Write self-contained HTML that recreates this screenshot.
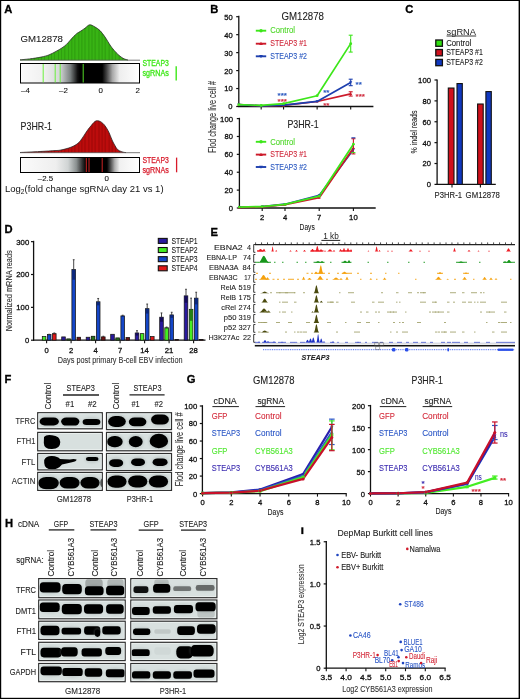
<!DOCTYPE html><html><head><meta charset="utf-8"><title>Figure</title><style>html,body{margin:0;padding:0;background:#fff;}svg{display:block;will-change:transform;}text{font-family:"Liberation Sans",sans-serif;}</style></head><body>
<svg width="520" height="699" viewBox="0 0 520 699">
<defs>
<filter id="bl" x="-20%" y="-40%" width="140%" height="180%"><feGaussianBlur stdDeviation="0.75"/></filter>
<filter id="bl2" x="-20%" y="-40%" width="140%" height="180%"><feGaussianBlur stdDeviation="1.1"/></filter>
<linearGradient id="gA1" x1="20" x2="140" y1="0" y2="0" gradientUnits="userSpaceOnUse"><stop offset="0" stop-color="#fbfbfb"/><stop offset="0.2" stop-color="#f0f0f0"/><stop offset="0.33" stop-color="#d5d8d8"/><stop offset="0.42" stop-color="#7a8080"/><stop offset="0.48" stop-color="#101010"/><stop offset="0.5" stop-color="#000"/><stop offset="0.685" stop-color="#000"/><stop offset="0.72" stop-color="#404040"/><stop offset="0.77" stop-color="#a8a8a8"/><stop offset="0.83" stop-color="#eeeeee"/><stop offset="1" stop-color="#fff"/></linearGradient>
<linearGradient id="gA2" x1="20" x2="140" y1="0" y2="0" gradientUnits="userSpaceOnUse"><stop offset="0" stop-color="#fbfbfb"/><stop offset="0.3" stop-color="#eeeeee"/><stop offset="0.4" stop-color="#d0d4d4"/><stop offset="0.47" stop-color="#8a9090"/><stop offset="0.52" stop-color="#303030"/><stop offset="0.55" stop-color="#000"/><stop offset="0.725" stop-color="#000"/><stop offset="0.75" stop-color="#404040"/><stop offset="0.79" stop-color="#b0b0b0"/><stop offset="0.83" stop-color="#f0f0f0"/><stop offset="1" stop-color="#fff"/></linearGradient>
</defs>
<rect x="0.00" y="0.00" width="520.00" height="699.00" fill="#fff" />
<rect x="0.00" y="0.00" width="1.20" height="699.00" fill="#000" />
<rect x="0.00" y="0.00" width="520.00" height="1.00" fill="#000" />
<rect x="518.60" y="0.00" width="1.40" height="699.00" fill="#000" />
<rect x="0.00" y="697.80" width="520.00" height="1.20" fill="#000" />
<text x="4.30" y="12.70" font-size="11.2" fill="#000" stroke="#000" stroke-width="0.3" font-weight="bold" >A</text>
<text x="210.20" y="12.70" font-size="11.2" fill="#000" stroke="#000" stroke-width="0.3" font-weight="bold" >B</text>
<text x="405.20" y="12.70" font-size="11.2" fill="#000" stroke="#000" stroke-width="0.3" font-weight="bold" >C</text>
<text x="4.60" y="233.20" font-size="11.2" fill="#000" stroke="#000" stroke-width="0.3" font-weight="bold" >D</text>
<text x="210.40" y="235.60" font-size="11.2" fill="#000" stroke="#000" stroke-width="0.3" font-weight="bold" >E</text>
<text x="4.60" y="382.60" font-size="11.2" fill="#000" stroke="#000" stroke-width="0.3" font-weight="bold" >F</text>
<text x="186.80" y="383.20" font-size="11.2" fill="#000" stroke="#000" stroke-width="0.3" font-weight="bold" >G</text>
<text x="5.00" y="527.00" font-size="11.2" fill="#000" stroke="#000" stroke-width="0.3" font-weight="bold" >H</text>
<rect x="301.30" y="527.30" width="2.10" height="6.80" fill="#000" />
<clipPath id="cpA1"><path d="M20.00,59.80 C21.58,59.65 26.00,59.35 29.50,58.90 C33.00,58.45 37.75,57.77 41.00,57.10 C44.25,56.43 46.50,55.85 49.00,54.90 C51.50,53.95 53.83,52.57 56.00,51.40 C58.17,50.23 60.25,49.07 62.00,47.90 C63.75,46.73 65.17,45.63 66.50,44.40 C67.83,43.17 68.83,41.80 70.00,40.50 C71.17,39.20 72.33,37.78 73.50,36.60 C74.67,35.42 75.92,34.23 77.00,33.40 C78.08,32.57 78.67,32.47 80.00,31.60 C81.33,30.73 83.38,29.33 85.00,28.20 C86.62,27.07 88.03,25.00 89.70,24.80 C91.37,24.60 93.28,26.03 95.00,27.00 C96.72,27.97 98.33,28.93 100.00,30.60 C101.67,32.27 103.33,34.60 105.00,37.00 C106.67,39.40 108.67,43.00 110.00,45.00 C111.33,47.00 112.00,47.75 113.00,49.00 C114.00,50.25 114.83,51.30 116.00,52.50 C117.17,53.70 118.67,55.15 120.00,56.20 C121.33,57.25 122.67,58.17 124.00,58.80 C125.33,59.43 127.33,59.80 128.00,60.00 L128,60.2 L20,60.2 Z"/></clipPath>
<path d="M20.00,59.80 C21.58,59.65 26.00,59.35 29.50,58.90 C33.00,58.45 37.75,57.77 41.00,57.10 C44.25,56.43 46.50,55.85 49.00,54.90 C51.50,53.95 53.83,52.57 56.00,51.40 C58.17,50.23 60.25,49.07 62.00,47.90 C63.75,46.73 65.17,45.63 66.50,44.40 C67.83,43.17 68.83,41.80 70.00,40.50 C71.17,39.20 72.33,37.78 73.50,36.60 C74.67,35.42 75.92,34.23 77.00,33.40 C78.08,32.57 78.67,32.47 80.00,31.60 C81.33,30.73 83.38,29.33 85.00,28.20 C86.62,27.07 88.03,25.00 89.70,24.80 C91.37,24.60 93.28,26.03 95.00,27.00 C96.72,27.97 98.33,28.93 100.00,30.60 C101.67,32.27 103.33,34.60 105.00,37.00 C106.67,39.40 108.67,43.00 110.00,45.00 C111.33,47.00 112.00,47.75 113.00,49.00 C114.00,50.25 114.83,51.30 116.00,52.50 C117.17,53.70 118.67,55.15 120.00,56.20 C121.33,57.25 122.67,58.17 124.00,58.80 C125.33,59.43 127.33,59.80 128.00,60.00 L128,60.2 L20,60.2 Z" fill="#38b414"/>
<g clip-path="url(#cpA1)">
<line x1="21.30" y1="0" x2="21.30" y2="60.2" stroke="#1c7008" stroke-width="0.45" opacity="0.8"/>
<line x1="24.40" y1="0" x2="24.40" y2="60.2" stroke="#1c7008" stroke-width="0.45" opacity="0.8"/>
<line x1="28.30" y1="0" x2="28.30" y2="60.2" stroke="#1c7008" stroke-width="0.45" opacity="0.8"/>
<line x1="31.40" y1="0" x2="31.40" y2="60.2" stroke="#1c7008" stroke-width="0.45" opacity="0.8"/>
<line x1="34.50" y1="0" x2="34.50" y2="60.2" stroke="#1c7008" stroke-width="0.45" opacity="0.8"/>
<line x1="38.40" y1="0" x2="38.40" y2="60.2" stroke="#1c7008" stroke-width="0.45" opacity="0.8"/>
<line x1="41.50" y1="0" x2="41.50" y2="60.2" stroke="#1c7008" stroke-width="0.45" opacity="0.8"/>
<line x1="44.60" y1="0" x2="44.60" y2="60.2" stroke="#1c7008" stroke-width="0.45" opacity="0.8"/>
<line x1="48.50" y1="0" x2="48.50" y2="60.2" stroke="#1c7008" stroke-width="0.45" opacity="0.8"/>
<line x1="51.60" y1="0" x2="51.60" y2="60.2" stroke="#1c7008" stroke-width="0.45" opacity="0.8"/>
<line x1="54.70" y1="0" x2="54.70" y2="60.2" stroke="#1c7008" stroke-width="0.45" opacity="0.8"/>
<line x1="58.60" y1="0" x2="58.60" y2="60.2" stroke="#1c7008" stroke-width="0.45" opacity="0.8"/>
<line x1="61.70" y1="0" x2="61.70" y2="60.2" stroke="#1c7008" stroke-width="0.45" opacity="0.8"/>
<line x1="64.80" y1="0" x2="64.80" y2="60.2" stroke="#1c7008" stroke-width="0.45" opacity="0.8"/>
<line x1="68.70" y1="0" x2="68.70" y2="60.2" stroke="#1c7008" stroke-width="0.45" opacity="0.8"/>
<line x1="71.80" y1="0" x2="71.80" y2="60.2" stroke="#1c7008" stroke-width="0.45" opacity="0.8"/>
<line x1="74.90" y1="0" x2="74.90" y2="60.2" stroke="#1c7008" stroke-width="0.45" opacity="0.8"/>
<line x1="78.80" y1="0" x2="78.80" y2="60.2" stroke="#1c7008" stroke-width="0.45" opacity="0.8"/>
<line x1="81.90" y1="0" x2="81.90" y2="60.2" stroke="#1c7008" stroke-width="0.45" opacity="0.8"/>
<line x1="85.00" y1="0" x2="85.00" y2="60.2" stroke="#1c7008" stroke-width="0.45" opacity="0.8"/>
<line x1="88.90" y1="0" x2="88.90" y2="60.2" stroke="#1c7008" stroke-width="0.45" opacity="0.8"/>
<line x1="92.00" y1="0" x2="92.00" y2="60.2" stroke="#1c7008" stroke-width="0.45" opacity="0.8"/>
<line x1="95.10" y1="0" x2="95.10" y2="60.2" stroke="#1c7008" stroke-width="0.45" opacity="0.8"/>
<line x1="99.00" y1="0" x2="99.00" y2="60.2" stroke="#1c7008" stroke-width="0.45" opacity="0.8"/>
<line x1="102.10" y1="0" x2="102.10" y2="60.2" stroke="#1c7008" stroke-width="0.45" opacity="0.8"/>
<line x1="105.20" y1="0" x2="105.20" y2="60.2" stroke="#1c7008" stroke-width="0.45" opacity="0.8"/>
<line x1="109.10" y1="0" x2="109.10" y2="60.2" stroke="#1c7008" stroke-width="0.45" opacity="0.8"/>
<line x1="112.20" y1="0" x2="112.20" y2="60.2" stroke="#1c7008" stroke-width="0.45" opacity="0.8"/>
<line x1="115.30" y1="0" x2="115.30" y2="60.2" stroke="#1c7008" stroke-width="0.45" opacity="0.8"/>
<line x1="119.20" y1="0" x2="119.20" y2="60.2" stroke="#1c7008" stroke-width="0.45" opacity="0.8"/>
<line x1="122.30" y1="0" x2="122.30" y2="60.2" stroke="#1c7008" stroke-width="0.45" opacity="0.8"/>
<line x1="125.40" y1="0" x2="125.40" y2="60.2" stroke="#1c7008" stroke-width="0.45" opacity="0.8"/>
</g>
<path d="M20.00,59.80 C21.58,59.65 26.00,59.35 29.50,58.90 C33.00,58.45 37.75,57.77 41.00,57.10 C44.25,56.43 46.50,55.85 49.00,54.90 C51.50,53.95 53.83,52.57 56.00,51.40 C58.17,50.23 60.25,49.07 62.00,47.90 C63.75,46.73 65.17,45.63 66.50,44.40 C67.83,43.17 68.83,41.80 70.00,40.50 C71.17,39.20 72.33,37.78 73.50,36.60 C74.67,35.42 75.92,34.23 77.00,33.40 C78.08,32.57 78.67,32.47 80.00,31.60 C81.33,30.73 83.38,29.33 85.00,28.20 C86.62,27.07 88.03,25.00 89.70,24.80 C91.37,24.60 93.28,26.03 95.00,27.00 C96.72,27.97 98.33,28.93 100.00,30.60 C101.67,32.27 103.33,34.60 105.00,37.00 C106.67,39.40 108.67,43.00 110.00,45.00 C111.33,47.00 112.00,47.75 113.00,49.00 C114.00,50.25 114.83,51.30 116.00,52.50 C117.17,53.70 118.67,55.15 120.00,56.20 C121.33,57.25 122.67,58.17 124.00,58.80 C125.33,59.43 127.33,59.80 128.00,60.00" fill="none" stroke="#222" stroke-width="0.75"/>
<line x1="20.00" y1="60.20" x2="140.00" y2="60.20" stroke="#555" stroke-width="0.8" />
<rect x="20.50" y="63.50" width="119.00" height="19.50" fill="url(#gA1)" stroke="#000" stroke-width="1"/>
<line x1="43.20" y1="64.00" x2="43.20" y2="82.50" stroke="#5cf02a" stroke-width="0.9" />
<line x1="55.20" y1="64.00" x2="55.20" y2="82.50" stroke="#5cf02a" stroke-width="0.9" />
<line x1="60.20" y1="64.00" x2="60.20" y2="82.50" stroke="#5cf02a" stroke-width="0.9" />
<line x1="83.20" y1="64.00" x2="83.20" y2="82.50" stroke="#5cf02a" stroke-width="0.9" />
<text x="25.50" y="92.60" font-size="7.92" fill="#111" stroke="#111" stroke-width="0.1" text-anchor="middle" >–4</text>
<text x="63.50" y="92.60" font-size="7.92" fill="#111" stroke="#111" stroke-width="0.1" text-anchor="middle" >–2</text>
<text x="100.70" y="92.60" font-size="7.92" fill="#111" stroke="#111" stroke-width="0.1" text-anchor="middle" >0</text>
<text x="137.60" y="92.60" font-size="7.92" fill="#111" stroke="#111" stroke-width="0.1" text-anchor="middle" >2</text>
<text x="20.60" y="42.40" font-size="9.9" fill="#222" stroke="#222" stroke-width="0.1" textLength="42.30" lengthAdjust="spacingAndGlyphs" >GM12878</text>
<text x="142.50" y="65.60" font-size="8.14" fill="#3ee818" stroke="#3ee818" stroke-width="0.3" textLength="26.30" lengthAdjust="spacingAndGlyphs" >STEAP3</text>
<text x="142.50" y="76.20" font-size="8.14" fill="#3ee818" stroke="#3ee818" stroke-width="0.3" textLength="26.30" lengthAdjust="spacingAndGlyphs" >sgRNAs</text>
<line x1="176.20" y1="66.30" x2="176.20" y2="80.50" stroke="#3ee818" stroke-width="1.4" />
<clipPath id="cpA2"><path d="M20.00,152.50 C23.33,152.33 34.17,151.82 40.00,151.50 C45.83,151.18 51.67,150.82 55.00,150.60 C58.33,150.38 58.17,150.50 60.00,150.20 C61.83,149.90 64.17,149.30 66.00,148.80 C67.83,148.30 69.50,147.78 71.00,147.20 C72.50,146.62 73.70,146.07 75.00,145.30 C76.30,144.53 77.63,143.73 78.80,142.60 C79.97,141.47 81.10,139.73 82.00,138.50 C82.90,137.27 83.20,136.70 84.20,135.20 C85.20,133.70 86.87,131.07 88.00,129.50 C89.13,127.93 90.00,127.00 91.00,125.80 C92.00,124.60 93.12,123.13 94.00,122.30 C94.88,121.47 95.47,121.02 96.30,120.80 C97.13,120.58 98.10,120.73 99.00,121.00 C99.90,121.27 100.87,121.82 101.70,122.40 C102.53,122.98 103.22,123.60 104.00,124.50 C104.78,125.40 105.57,126.47 106.40,127.80 C107.23,129.13 108.20,130.82 109.00,132.50 C109.80,134.18 110.53,136.32 111.20,137.90 C111.87,139.48 112.33,140.65 113.00,142.00 C113.67,143.35 114.53,144.87 115.20,146.00 C115.87,147.13 116.33,148.02 117.00,148.80 C117.67,149.58 118.15,150.13 119.20,150.70 C120.25,151.27 122.17,151.88 123.30,152.20 C124.43,152.52 125.55,152.53 126.00,152.60 L126,152.7 L20,152.7 Z"/></clipPath>
<path d="M20.00,152.50 C23.33,152.33 34.17,151.82 40.00,151.50 C45.83,151.18 51.67,150.82 55.00,150.60 C58.33,150.38 58.17,150.50 60.00,150.20 C61.83,149.90 64.17,149.30 66.00,148.80 C67.83,148.30 69.50,147.78 71.00,147.20 C72.50,146.62 73.70,146.07 75.00,145.30 C76.30,144.53 77.63,143.73 78.80,142.60 C79.97,141.47 81.10,139.73 82.00,138.50 C82.90,137.27 83.20,136.70 84.20,135.20 C85.20,133.70 86.87,131.07 88.00,129.50 C89.13,127.93 90.00,127.00 91.00,125.80 C92.00,124.60 93.12,123.13 94.00,122.30 C94.88,121.47 95.47,121.02 96.30,120.80 C97.13,120.58 98.10,120.73 99.00,121.00 C99.90,121.27 100.87,121.82 101.70,122.40 C102.53,122.98 103.22,123.60 104.00,124.50 C104.78,125.40 105.57,126.47 106.40,127.80 C107.23,129.13 108.20,130.82 109.00,132.50 C109.80,134.18 110.53,136.32 111.20,137.90 C111.87,139.48 112.33,140.65 113.00,142.00 C113.67,143.35 114.53,144.87 115.20,146.00 C115.87,147.13 116.33,148.02 117.00,148.80 C117.67,149.58 118.15,150.13 119.20,150.70 C120.25,151.27 122.17,151.88 123.30,152.20 C124.43,152.52 125.55,152.53 126.00,152.60 L126,152.7 L20,152.7 Z" fill="#bc0c0c"/>
<g clip-path="url(#cpA2)">
<line x1="21.30" y1="0" x2="21.30" y2="152.7" stroke="#6a0404" stroke-width="0.45" opacity="0.8"/>
<line x1="24.40" y1="0" x2="24.40" y2="152.7" stroke="#6a0404" stroke-width="0.45" opacity="0.8"/>
<line x1="28.30" y1="0" x2="28.30" y2="152.7" stroke="#6a0404" stroke-width="0.45" opacity="0.8"/>
<line x1="31.40" y1="0" x2="31.40" y2="152.7" stroke="#6a0404" stroke-width="0.45" opacity="0.8"/>
<line x1="34.50" y1="0" x2="34.50" y2="152.7" stroke="#6a0404" stroke-width="0.45" opacity="0.8"/>
<line x1="38.40" y1="0" x2="38.40" y2="152.7" stroke="#6a0404" stroke-width="0.45" opacity="0.8"/>
<line x1="41.50" y1="0" x2="41.50" y2="152.7" stroke="#6a0404" stroke-width="0.45" opacity="0.8"/>
<line x1="44.60" y1="0" x2="44.60" y2="152.7" stroke="#6a0404" stroke-width="0.45" opacity="0.8"/>
<line x1="48.50" y1="0" x2="48.50" y2="152.7" stroke="#6a0404" stroke-width="0.45" opacity="0.8"/>
<line x1="51.60" y1="0" x2="51.60" y2="152.7" stroke="#6a0404" stroke-width="0.45" opacity="0.8"/>
<line x1="54.70" y1="0" x2="54.70" y2="152.7" stroke="#6a0404" stroke-width="0.45" opacity="0.8"/>
<line x1="58.60" y1="0" x2="58.60" y2="152.7" stroke="#6a0404" stroke-width="0.45" opacity="0.8"/>
<line x1="61.70" y1="0" x2="61.70" y2="152.7" stroke="#6a0404" stroke-width="0.45" opacity="0.8"/>
<line x1="64.80" y1="0" x2="64.80" y2="152.7" stroke="#6a0404" stroke-width="0.45" opacity="0.8"/>
<line x1="68.70" y1="0" x2="68.70" y2="152.7" stroke="#6a0404" stroke-width="0.45" opacity="0.8"/>
<line x1="71.80" y1="0" x2="71.80" y2="152.7" stroke="#6a0404" stroke-width="0.45" opacity="0.8"/>
<line x1="74.90" y1="0" x2="74.90" y2="152.7" stroke="#6a0404" stroke-width="0.45" opacity="0.8"/>
<line x1="78.80" y1="0" x2="78.80" y2="152.7" stroke="#6a0404" stroke-width="0.45" opacity="0.8"/>
<line x1="81.90" y1="0" x2="81.90" y2="152.7" stroke="#6a0404" stroke-width="0.45" opacity="0.8"/>
<line x1="85.00" y1="0" x2="85.00" y2="152.7" stroke="#6a0404" stroke-width="0.45" opacity="0.8"/>
<line x1="88.90" y1="0" x2="88.90" y2="152.7" stroke="#6a0404" stroke-width="0.45" opacity="0.8"/>
<line x1="92.00" y1="0" x2="92.00" y2="152.7" stroke="#6a0404" stroke-width="0.45" opacity="0.8"/>
<line x1="95.10" y1="0" x2="95.10" y2="152.7" stroke="#6a0404" stroke-width="0.45" opacity="0.8"/>
<line x1="99.00" y1="0" x2="99.00" y2="152.7" stroke="#6a0404" stroke-width="0.45" opacity="0.8"/>
<line x1="102.10" y1="0" x2="102.10" y2="152.7" stroke="#6a0404" stroke-width="0.45" opacity="0.8"/>
<line x1="105.20" y1="0" x2="105.20" y2="152.7" stroke="#6a0404" stroke-width="0.45" opacity="0.8"/>
<line x1="109.10" y1="0" x2="109.10" y2="152.7" stroke="#6a0404" stroke-width="0.45" opacity="0.8"/>
<line x1="112.20" y1="0" x2="112.20" y2="152.7" stroke="#6a0404" stroke-width="0.45" opacity="0.8"/>
<line x1="115.30" y1="0" x2="115.30" y2="152.7" stroke="#6a0404" stroke-width="0.45" opacity="0.8"/>
<line x1="119.20" y1="0" x2="119.20" y2="152.7" stroke="#6a0404" stroke-width="0.45" opacity="0.8"/>
<line x1="122.30" y1="0" x2="122.30" y2="152.7" stroke="#6a0404" stroke-width="0.45" opacity="0.8"/>
<line x1="125.40" y1="0" x2="125.40" y2="152.7" stroke="#6a0404" stroke-width="0.45" opacity="0.8"/>
</g>
<path d="M20.00,152.50 C23.33,152.33 34.17,151.82 40.00,151.50 C45.83,151.18 51.67,150.82 55.00,150.60 C58.33,150.38 58.17,150.50 60.00,150.20 C61.83,149.90 64.17,149.30 66.00,148.80 C67.83,148.30 69.50,147.78 71.00,147.20 C72.50,146.62 73.70,146.07 75.00,145.30 C76.30,144.53 77.63,143.73 78.80,142.60 C79.97,141.47 81.10,139.73 82.00,138.50 C82.90,137.27 83.20,136.70 84.20,135.20 C85.20,133.70 86.87,131.07 88.00,129.50 C89.13,127.93 90.00,127.00 91.00,125.80 C92.00,124.60 93.12,123.13 94.00,122.30 C94.88,121.47 95.47,121.02 96.30,120.80 C97.13,120.58 98.10,120.73 99.00,121.00 C99.90,121.27 100.87,121.82 101.70,122.40 C102.53,122.98 103.22,123.60 104.00,124.50 C104.78,125.40 105.57,126.47 106.40,127.80 C107.23,129.13 108.20,130.82 109.00,132.50 C109.80,134.18 110.53,136.32 111.20,137.90 C111.87,139.48 112.33,140.65 113.00,142.00 C113.67,143.35 114.53,144.87 115.20,146.00 C115.87,147.13 116.33,148.02 117.00,148.80 C117.67,149.58 118.15,150.13 119.20,150.70 C120.25,151.27 122.17,151.88 123.30,152.20 C124.43,152.52 125.55,152.53 126.00,152.60" fill="none" stroke="#222" stroke-width="0.75"/>
<line x1="20.00" y1="152.70" x2="140.00" y2="152.70" stroke="#555" stroke-width="0.8" />
<rect x="20.50" y="157.50" width="119.00" height="15.00" fill="url(#gA2)" stroke="#000" stroke-width="1"/>
<line x1="86.30" y1="158.00" x2="86.30" y2="172.00" stroke="#e22828" stroke-width="0.9" />
<line x1="89.00" y1="158.00" x2="89.00" y2="172.00" stroke="#e22828" stroke-width="0.9" />
<line x1="102.20" y1="158.00" x2="102.20" y2="172.00" stroke="#e22828" stroke-width="0.9" />
<text x="45.50" y="181.30" font-size="7.92" fill="#111" stroke="#111" stroke-width="0.1" text-anchor="middle" >–2.5</text>
<text x="106.80" y="181.30" font-size="7.92" fill="#111" stroke="#111" stroke-width="0.1" text-anchor="middle" >0</text>
<text x="20.60" y="129.60" font-size="10.34" fill="#222" stroke="#222" stroke-width="0.1" textLength="31.40" lengthAdjust="spacingAndGlyphs" >P3HR-1</text>
<text x="142.50" y="162.60" font-size="8.14" fill="#d81a2a" stroke="#d81a2a" stroke-width="0.25" textLength="26.30" lengthAdjust="spacingAndGlyphs" >STEAP3</text>
<text x="142.50" y="173.10" font-size="8.14" fill="#d81a2a" stroke="#d81a2a" stroke-width="0.25" textLength="26.30" lengthAdjust="spacingAndGlyphs" >sgRNAs</text>
<line x1="176.60" y1="157.60" x2="176.60" y2="172.30" stroke="#d81a2a" stroke-width="1.3" />
<text x="5" y="192.2" font-size="9.4" fill="#111" textLength="158.6" lengthAdjust="spacingAndGlyphs">Log<tspan font-size="6.5" dy="2.2">2</tspan><tspan dy="-2.2">(fold change sgRNA day 21 vs 1)</tspan></text>
<line x1="238.80" y1="15.80" x2="238.80" y2="107.10" stroke="#111" stroke-width="1.3" />
<line x1="238.20" y1="106.50" x2="373.40" y2="106.50" stroke="#111" stroke-width="1.3" />
<line x1="236.20" y1="16.70" x2="238.80" y2="16.70" stroke="#111" stroke-width="1.2" />
<text x="232.60" y="19.65" font-size="7.6" fill="#111" stroke="#111" stroke-width="0.3" text-anchor="end" textLength="8.40" lengthAdjust="spacingAndGlyphs" >50</text>
<line x1="236.20" y1="34.66" x2="238.80" y2="34.66" stroke="#111" stroke-width="1.2" />
<text x="232.60" y="37.61" font-size="7.6" fill="#111" stroke="#111" stroke-width="0.3" text-anchor="end" textLength="8.40" lengthAdjust="spacingAndGlyphs" >40</text>
<line x1="236.20" y1="52.62" x2="238.80" y2="52.62" stroke="#111" stroke-width="1.2" />
<text x="232.60" y="55.57" font-size="7.6" fill="#111" stroke="#111" stroke-width="0.3" text-anchor="end" textLength="8.40" lengthAdjust="spacingAndGlyphs" >30</text>
<line x1="236.20" y1="70.58" x2="238.80" y2="70.58" stroke="#111" stroke-width="1.2" />
<text x="232.60" y="73.53" font-size="7.6" fill="#111" stroke="#111" stroke-width="0.3" text-anchor="end" textLength="8.40" lengthAdjust="spacingAndGlyphs" >20</text>
<line x1="236.20" y1="88.54" x2="238.80" y2="88.54" stroke="#111" stroke-width="1.2" />
<text x="232.60" y="91.49" font-size="7.6" fill="#111" stroke="#111" stroke-width="0.3" text-anchor="end" textLength="8.40" lengthAdjust="spacingAndGlyphs" >10</text>
<line x1="236.20" y1="106.50" x2="238.80" y2="106.50" stroke="#111" stroke-width="1.2" />
<text x="232.60" y="109.45" font-size="7.6" fill="#111" stroke="#111" stroke-width="0.3" text-anchor="end" >0</text>
<line x1="261.18" y1="106.50" x2="261.18" y2="109.50" stroke="#111" stroke-width="1.1" />
<line x1="283.56" y1="106.50" x2="283.56" y2="109.50" stroke="#111" stroke-width="1.1" />
<line x1="317.13" y1="106.50" x2="317.13" y2="109.50" stroke="#111" stroke-width="1.1" />
<line x1="350.70" y1="106.50" x2="350.70" y2="109.50" stroke="#111" stroke-width="1.1" />
<polyline points="238.80,104.70 261.18,105.78 283.56,105.42 317.13,101.47 350.70,93.93" fill="none" stroke="#cc1a2a" stroke-width="1.7" stroke-linejoin="round" />
<line x1="350.70" y1="91.77" x2="350.70" y2="96.08" stroke="#cc1a2a" stroke-width="1.1" />
<line x1="348.70" y1="91.77" x2="352.70" y2="91.77" stroke="#cc1a2a" stroke-width="1.1" />
<line x1="348.70" y1="96.08" x2="352.70" y2="96.08" stroke="#cc1a2a" stroke-width="1.1" />
<path d="M237.26,105.82 L240.34,105.82 L238.80,103.16 Z" fill="#cc1a2a"/>
<path d="M259.64,106.90 L262.72,106.90 L261.18,104.24 Z" fill="#cc1a2a"/>
<path d="M282.02,106.54 L285.10,106.54 L283.56,103.88 Z" fill="#cc1a2a"/>
<path d="M315.59,102.59 L318.67,102.59 L317.13,99.93 Z" fill="#cc1a2a"/>
<path d="M349.16,95.05 L352.24,95.05 L350.70,92.39 Z" fill="#cc1a2a"/>
<polyline points="238.80,104.70 261.18,105.78 283.56,105.06 317.13,101.47 350.70,82.43" fill="none" stroke="#1d3fae" stroke-width="1.7" stroke-linejoin="round" />
<line x1="350.70" y1="79.20" x2="350.70" y2="85.67" stroke="#1d3fae" stroke-width="1.1" />
<line x1="348.70" y1="79.20" x2="352.70" y2="79.20" stroke="#1d3fae" stroke-width="1.1" />
<line x1="348.70" y1="85.67" x2="352.70" y2="85.67" stroke="#1d3fae" stroke-width="1.1" />
<path d="M237.26,103.58 L240.34,103.58 L238.80,106.24 Z" fill="#1d3fae"/>
<path d="M259.64,104.66 L262.72,104.66 L261.18,107.32 Z" fill="#1d3fae"/>
<path d="M282.02,103.94 L285.10,103.94 L283.56,106.60 Z" fill="#1d3fae"/>
<path d="M315.59,100.35 L318.67,100.35 L317.13,103.01 Z" fill="#1d3fae"/>
<path d="M349.16,81.31 L352.24,81.31 L350.70,83.97 Z" fill="#1d3fae"/>
<polyline points="238.80,104.70 261.18,105.42 283.56,103.63 317.13,95.72 350.70,43.64" fill="none" stroke="#3de61a" stroke-width="1.7" stroke-linejoin="round" />
<line x1="350.70" y1="35.20" x2="350.70" y2="52.08" stroke="#3de61a" stroke-width="1.1" />
<line x1="348.70" y1="35.20" x2="352.70" y2="35.20" stroke="#3de61a" stroke-width="1.1" />
<line x1="348.70" y1="52.08" x2="352.70" y2="52.08" stroke="#3de61a" stroke-width="1.1" />
<circle cx="238.80" cy="104.70" r="1.40" fill="#3de61a"/>
<circle cx="261.18" cy="105.42" r="1.40" fill="#3de61a"/>
<circle cx="283.56" cy="103.63" r="1.40" fill="#3de61a"/>
<circle cx="317.13" cy="95.72" r="1.40" fill="#3de61a"/>
<circle cx="350.70" cy="43.64" r="1.40" fill="#3de61a"/>
<text x="281.40" y="20.20" font-size="10.56" fill="#222" stroke="#222" stroke-width="0.1" textLength="42.60" lengthAdjust="spacingAndGlyphs" >GM12878</text>
<line x1="255.80" y1="30.70" x2="266.20" y2="30.70" stroke="#3de61a" stroke-width="1.9" />
<circle cx="261.00" cy="30.70" r="1.70" fill="#3de61a"/>
<text x="270.20" y="33.40" font-size="8.14" fill="#4fd82a" stroke="#4fd82a" stroke-width="0.1" textLength="24.80" lengthAdjust="spacingAndGlyphs" >Control</text>
<line x1="255.80" y1="43.70" x2="266.20" y2="43.70" stroke="#cc1a2a" stroke-width="1.9" />
<path d="M259.13,45.06 L262.87,45.06 L261.00,41.83 Z" fill="#cc1a2a"/>
<text x="270.20" y="46.40" font-size="8.14" fill="#d02a3c" stroke="#d02a3c" stroke-width="0.1" textLength="36.80" lengthAdjust="spacingAndGlyphs" >STEAP3 #1</text>
<line x1="255.80" y1="56.30" x2="266.20" y2="56.30" stroke="#1d3fae" stroke-width="1.9" />
<path d="M259.13,54.94 L262.87,54.94 L261.00,58.17 Z" fill="#1d3fae"/>
<text x="270.20" y="59.00" font-size="8.14" fill="#2a58c0" stroke="#2a58c0" stroke-width="0.1" textLength="36.80" lengthAdjust="spacingAndGlyphs" >STEAP3 #2</text>
<text x="277.60" y="97.90" font-size="8.0" fill="#2a58c0" stroke="#2a58c0" stroke-width="0.1" font-weight="bold" >***</text>
<text x="277.60" y="103.60" font-size="8.0" fill="#d02a3c" stroke="#d02a3c" stroke-width="0.1" font-weight="bold" >***</text>
<text x="323.20" y="95.40" font-size="8.0" fill="#2a58c0" stroke="#2a58c0" stroke-width="0.1" font-weight="bold" >**</text>
<text x="323.20" y="107.60" font-size="8.0" fill="#d02a3c" stroke="#d02a3c" stroke-width="0.1" font-weight="bold" >**</text>
<text x="355.60" y="86.60" font-size="8.0" fill="#2a58c0" stroke="#2a58c0" stroke-width="0.1" font-weight="bold" >**</text>
<text x="355.60" y="98.80" font-size="8.0" fill="#d02a3c" stroke="#d02a3c" stroke-width="0.1" font-weight="bold" >***</text>
<line x1="239.40" y1="117.80" x2="239.40" y2="208.60" stroke="#111" stroke-width="1.3" />
<line x1="238.80" y1="208.00" x2="375.70" y2="208.00" stroke="#111" stroke-width="1.3" />
<line x1="236.80" y1="118.60" x2="239.40" y2="118.60" stroke="#111" stroke-width="1.2" />
<text x="233.00" y="121.55" font-size="7.6" fill="#111" stroke="#111" stroke-width="0.3" text-anchor="end" textLength="12.90" lengthAdjust="spacingAndGlyphs" >100</text>
<line x1="236.80" y1="136.48" x2="239.40" y2="136.48" stroke="#111" stroke-width="1.2" />
<text x="233.00" y="139.43" font-size="7.6" fill="#111" stroke="#111" stroke-width="0.3" text-anchor="end" textLength="8.40" lengthAdjust="spacingAndGlyphs" >80</text>
<line x1="236.80" y1="154.36" x2="239.40" y2="154.36" stroke="#111" stroke-width="1.2" />
<text x="233.00" y="157.31" font-size="7.6" fill="#111" stroke="#111" stroke-width="0.3" text-anchor="end" textLength="8.40" lengthAdjust="spacingAndGlyphs" >60</text>
<line x1="236.80" y1="172.24" x2="239.40" y2="172.24" stroke="#111" stroke-width="1.2" />
<text x="233.00" y="175.19" font-size="7.6" fill="#111" stroke="#111" stroke-width="0.3" text-anchor="end" textLength="8.40" lengthAdjust="spacingAndGlyphs" >40</text>
<line x1="236.80" y1="190.12" x2="239.40" y2="190.12" stroke="#111" stroke-width="1.2" />
<text x="233.00" y="193.07" font-size="7.6" fill="#111" stroke="#111" stroke-width="0.3" text-anchor="end" textLength="8.40" lengthAdjust="spacingAndGlyphs" >20</text>
<line x1="236.80" y1="208.00" x2="239.40" y2="208.00" stroke="#111" stroke-width="1.2" />
<text x="233.00" y="210.95" font-size="7.6" fill="#111" stroke="#111" stroke-width="0.3" text-anchor="end" >0</text>
<line x1="262.20" y1="208.00" x2="262.20" y2="211.00" stroke="#111" stroke-width="1.1" />
<text x="262.20" y="220.30" font-size="7.6" fill="#111" stroke="#111" stroke-width="0.3" text-anchor="middle" >2</text>
<line x1="285.00" y1="208.00" x2="285.00" y2="211.00" stroke="#111" stroke-width="1.1" />
<text x="285.00" y="220.30" font-size="7.6" fill="#111" stroke="#111" stroke-width="0.3" text-anchor="middle" >4</text>
<line x1="319.20" y1="208.00" x2="319.20" y2="211.00" stroke="#111" stroke-width="1.1" />
<text x="319.20" y="220.30" font-size="7.6" fill="#111" stroke="#111" stroke-width="0.3" text-anchor="middle" >7</text>
<line x1="353.40" y1="208.00" x2="353.40" y2="211.00" stroke="#111" stroke-width="1.1" />
<text x="353.40" y="220.30" font-size="7.6" fill="#111" stroke="#111" stroke-width="0.3" text-anchor="middle" textLength="8.60" lengthAdjust="spacingAndGlyphs" >10</text>
<polyline points="239.40,207.11 262.20,206.66 285.00,204.25 319.20,195.48 353.40,149.44" fill="none" stroke="#1d3fae" stroke-width="1.8" stroke-linejoin="round" />
<polyline points="239.40,207.28 262.20,206.93 285.00,204.60 319.20,197.72 353.40,148.10" fill="none" stroke="#cc1a2a" stroke-width="1.8" stroke-linejoin="round" />
<polyline points="239.40,207.11 262.20,206.57 285.00,204.42 319.20,196.20 353.40,144.17" fill="none" stroke="#3de61a" stroke-width="1.8" stroke-linejoin="round" />
<line x1="353.40" y1="138.72" x2="353.40" y2="153.91" stroke="#cc1a2a" stroke-width="1.1" />
<line x1="351.40" y1="138.72" x2="355.40" y2="138.72" stroke="#cc1a2a" stroke-width="1.1" />
<line x1="351.40" y1="153.91" x2="355.40" y2="153.91" stroke="#cc1a2a" stroke-width="1.1" />
<line x1="351.40" y1="137.82" x2="355.40" y2="137.82" stroke="#1d3fae" stroke-width="1.1" />
<line x1="351.40" y1="152.57" x2="355.40" y2="152.57" stroke="#3de61a" stroke-width="1.0" />
<path d="M237.86,205.99 L240.94,205.99 L239.40,208.65 Z" fill="#1d3fae"/>
<path d="M260.66,205.54 L263.74,205.54 L262.20,208.20 Z" fill="#1d3fae"/>
<path d="M283.46,203.13 L286.54,203.13 L285.00,205.79 Z" fill="#1d3fae"/>
<path d="M317.66,194.36 L320.74,194.36 L319.20,197.02 Z" fill="#1d3fae"/>
<path d="M351.86,148.32 L354.94,148.32 L353.40,150.98 Z" fill="#1d3fae"/>
<path d="M237.86,208.40 L240.94,208.40 L239.40,205.74 Z" fill="#cc1a2a"/>
<path d="M260.66,208.05 L263.74,208.05 L262.20,205.39 Z" fill="#cc1a2a"/>
<path d="M283.46,205.72 L286.54,205.72 L285.00,203.06 Z" fill="#cc1a2a"/>
<path d="M317.66,198.84 L320.74,198.84 L319.20,196.18 Z" fill="#cc1a2a"/>
<path d="M351.86,149.22 L354.94,149.22 L353.40,146.56 Z" fill="#cc1a2a"/>
<circle cx="239.40" cy="207.11" r="1.40" fill="#3de61a"/>
<circle cx="262.20" cy="206.57" r="1.40" fill="#3de61a"/>
<circle cx="285.00" cy="204.42" r="1.40" fill="#3de61a"/>
<circle cx="319.20" cy="196.20" r="1.40" fill="#3de61a"/>
<circle cx="353.40" cy="144.17" r="1.40" fill="#3de61a"/>
<text x="287.40" y="128.40" font-size="10.56" fill="#222" stroke="#222" stroke-width="0.1" textLength="31.30" lengthAdjust="spacingAndGlyphs" >P3HR-1</text>
<line x1="255.80" y1="141.80" x2="266.20" y2="141.80" stroke="#3de61a" stroke-width="1.9" />
<circle cx="261.00" cy="141.80" r="1.70" fill="#3de61a"/>
<text x="270.20" y="144.50" font-size="8.14" fill="#4fd82a" stroke="#4fd82a" stroke-width="0.1" textLength="24.80" lengthAdjust="spacingAndGlyphs" >Control</text>
<line x1="255.80" y1="154.60" x2="266.20" y2="154.60" stroke="#cc1a2a" stroke-width="1.9" />
<path d="M259.13,155.96 L262.87,155.96 L261.00,152.73 Z" fill="#cc1a2a"/>
<text x="270.20" y="157.30" font-size="8.14" fill="#d02a3c" stroke="#d02a3c" stroke-width="0.1" textLength="36.80" lengthAdjust="spacingAndGlyphs" >STEAP3 #1</text>
<line x1="255.80" y1="167.00" x2="266.20" y2="167.00" stroke="#1d3fae" stroke-width="1.9" />
<path d="M259.13,165.64 L262.87,165.64 L261.00,168.87 Z" fill="#1d3fae"/>
<text x="270.20" y="169.70" font-size="8.14" fill="#2a58c0" stroke="#2a58c0" stroke-width="0.1" textLength="36.80" lengthAdjust="spacingAndGlyphs" >STEAP3 #2</text>
<text x="299.60" y="230.00" font-size="9.46" fill="#222" stroke="#222" stroke-width="0.1" textLength="15.20" lengthAdjust="spacingAndGlyphs" >Days</text>
<text x="216.40" y="152.80" font-size="10.12" fill="#333" stroke="#333" stroke-width="0.1" textLength="71.80" lengthAdjust="spacingAndGlyphs" transform="rotate(-90 216.40 152.80)" >Flod change live cell #</text>
<text x="446.6" y="34.6" font-size="9.3" fill="#222" textLength="29.4" lengthAdjust="spacingAndGlyphs">sgRNA</text>
<line x1="446.60" y1="36.00" x2="476.20" y2="36.00" stroke="#222" stroke-width="0.9" />
<rect x="435.80" y="40.00" width="6.60" height="6.30" fill="#30e010" stroke="#111" stroke-width="1.3"/>
<text x="446.20" y="45.80" font-size="8.58" fill="#222" stroke="#222" stroke-width="0.1" textLength="25.00" lengthAdjust="spacingAndGlyphs" >Control</text>
<rect x="435.80" y="49.50" width="6.60" height="6.30" fill="#d0101c" stroke="#111" stroke-width="1.3"/>
<text x="446.20" y="55.30" font-size="8.58" fill="#222" stroke="#222" stroke-width="0.1" textLength="36.60" lengthAdjust="spacingAndGlyphs" >STEAP3 #1</text>
<rect x="435.80" y="59.40" width="6.60" height="6.30" fill="#1038c0" stroke="#111" stroke-width="1.3"/>
<text x="446.20" y="65.20" font-size="8.58" fill="#222" stroke="#222" stroke-width="0.1" textLength="36.60" lengthAdjust="spacingAndGlyphs" >STEAP3 #2</text>
<line x1="437.10" y1="79.40" x2="437.10" y2="185.00" stroke="#111" stroke-width="1.3" />
<line x1="436.50" y1="184.40" x2="495.80" y2="184.40" stroke="#111" stroke-width="1.3" />
<line x1="434.50" y1="80.00" x2="437.10" y2="80.00" stroke="#111" stroke-width="1.2" />
<text x="431.00" y="82.95" font-size="7.6" fill="#111" stroke="#111" stroke-width="0.3" text-anchor="end" textLength="12.90" lengthAdjust="spacingAndGlyphs" >100</text>
<line x1="434.50" y1="100.88" x2="437.10" y2="100.88" stroke="#111" stroke-width="1.2" />
<text x="431.00" y="103.83" font-size="7.6" fill="#111" stroke="#111" stroke-width="0.3" text-anchor="end" textLength="8.40" lengthAdjust="spacingAndGlyphs" >80</text>
<line x1="434.50" y1="121.76" x2="437.10" y2="121.76" stroke="#111" stroke-width="1.2" />
<text x="431.00" y="124.71" font-size="7.6" fill="#111" stroke="#111" stroke-width="0.3" text-anchor="end" textLength="8.40" lengthAdjust="spacingAndGlyphs" >60</text>
<line x1="434.50" y1="142.64" x2="437.10" y2="142.64" stroke="#111" stroke-width="1.2" />
<text x="431.00" y="145.59" font-size="7.6" fill="#111" stroke="#111" stroke-width="0.3" text-anchor="end" textLength="8.40" lengthAdjust="spacingAndGlyphs" >40</text>
<line x1="434.50" y1="163.52" x2="437.10" y2="163.52" stroke="#111" stroke-width="1.2" />
<text x="431.00" y="166.47" font-size="7.6" fill="#111" stroke="#111" stroke-width="0.3" text-anchor="end" textLength="8.40" lengthAdjust="spacingAndGlyphs" >20</text>
<line x1="434.50" y1="184.40" x2="437.10" y2="184.40" stroke="#111" stroke-width="1.2" />
<text x="431.00" y="187.35" font-size="7.6" fill="#111" stroke="#111" stroke-width="0.3" text-anchor="end" >0</text>
<rect x="448.30" y="88.04" width="5.70" height="96.36" fill="#d0101c" stroke="#111" stroke-width="1.1"/>
<rect x="457.00" y="83.55" width="5.30" height="100.85" fill="#1038c0" stroke="#111" stroke-width="1.1"/>
<rect x="477.60" y="104.01" width="5.60" height="80.39" fill="#d0101c" stroke="#111" stroke-width="1.1"/>
<rect x="485.90" y="91.59" width="5.40" height="92.81" fill="#1038c0" stroke="#111" stroke-width="1.1"/>
<line x1="452.00" y1="184.40" x2="452.00" y2="187.40" stroke="#111" stroke-width="1.1" />
<line x1="480.40" y1="184.40" x2="480.40" y2="187.40" stroke="#111" stroke-width="1.1" />
<text x="434.60" y="198.00" font-size="8.58" fill="#222" stroke="#222" stroke-width="0.1" textLength="27.40" lengthAdjust="spacingAndGlyphs" >P3HR-1</text>
<text x="465.60" y="198.00" font-size="8.58" fill="#222" stroke="#222" stroke-width="0.1" textLength="34.20" lengthAdjust="spacingAndGlyphs" >GM12878</text>
<text x="416.80" y="153.50" font-size="9.68" fill="#222" stroke="#222" stroke-width="0.1" textLength="43.00" lengthAdjust="spacingAndGlyphs" transform="rotate(-90 416.80 153.50)" >% indel reads</text>
<line x1="33.60" y1="240.80" x2="33.60" y2="340.80" stroke="#111" stroke-width="1.3" />
<line x1="33.00" y1="340.20" x2="205.50" y2="340.20" stroke="#111" stroke-width="1.3" />
<line x1="31.00" y1="241.65" x2="33.60" y2="241.65" stroke="#111" stroke-width="1.2" />
<text x="29.20" y="244.60" font-size="7.6" fill="#111" stroke="#111" stroke-width="0.3" text-anchor="end" textLength="12.90" lengthAdjust="spacingAndGlyphs" >300</text>
<line x1="31.00" y1="274.50" x2="33.60" y2="274.50" stroke="#111" stroke-width="1.2" />
<text x="29.20" y="277.45" font-size="7.6" fill="#111" stroke="#111" stroke-width="0.3" text-anchor="end" textLength="12.90" lengthAdjust="spacingAndGlyphs" >200</text>
<line x1="31.00" y1="307.35" x2="33.60" y2="307.35" stroke="#111" stroke-width="1.2" />
<text x="29.20" y="310.30" font-size="7.6" fill="#111" stroke="#111" stroke-width="0.3" text-anchor="end" textLength="12.90" lengthAdjust="spacingAndGlyphs" >100</text>
<line x1="31.00" y1="340.20" x2="33.60" y2="340.20" stroke="#111" stroke-width="1.2" />
<text x="29.20" y="343.15" font-size="7.6" fill="#111" stroke="#111" stroke-width="0.3" text-anchor="end" >0</text>
<line x1="46.60" y1="340.20" x2="46.60" y2="343.20" stroke="#111" stroke-width="1.1" />
<text x="46.60" y="352.70" font-size="7.6" fill="#111" stroke="#111" stroke-width="0.3" text-anchor="middle" >0</text>
<line x1="71.10" y1="340.20" x2="71.10" y2="343.20" stroke="#111" stroke-width="1.1" />
<text x="71.10" y="352.70" font-size="7.6" fill="#111" stroke="#111" stroke-width="0.3" text-anchor="middle" >2</text>
<line x1="95.60" y1="340.20" x2="95.60" y2="343.20" stroke="#111" stroke-width="1.1" />
<text x="95.60" y="352.70" font-size="7.6" fill="#111" stroke="#111" stroke-width="0.3" text-anchor="middle" >4</text>
<line x1="120.10" y1="340.20" x2="120.10" y2="343.20" stroke="#111" stroke-width="1.1" />
<text x="120.10" y="352.70" font-size="7.6" fill="#111" stroke="#111" stroke-width="0.3" text-anchor="middle" >7</text>
<line x1="144.60" y1="340.20" x2="144.60" y2="343.20" stroke="#111" stroke-width="1.1" />
<text x="144.60" y="352.70" font-size="7.6" fill="#111" stroke="#111" stroke-width="0.3" text-anchor="middle" textLength="8.60" lengthAdjust="spacingAndGlyphs" >14</text>
<line x1="169.10" y1="340.20" x2="169.10" y2="343.20" stroke="#111" stroke-width="1.1" />
<text x="169.10" y="352.70" font-size="7.6" fill="#111" stroke="#111" stroke-width="0.3" text-anchor="middle" textLength="8.60" lengthAdjust="spacingAndGlyphs" >21</text>
<line x1="193.60" y1="340.20" x2="193.60" y2="343.20" stroke="#111" stroke-width="1.1" />
<text x="193.60" y="352.70" font-size="7.6" fill="#111" stroke="#111" stroke-width="0.3" text-anchor="middle" textLength="8.60" lengthAdjust="spacingAndGlyphs" >28</text>
<rect x="42.30" y="336.59" width="3.60" height="3.61" fill="#44ee22" stroke="#151515" stroke-width="0.75"/>
<rect x="47.40" y="334.62" width="3.60" height="5.58" fill="#1446c8" stroke="#151515" stroke-width="0.75"/>
<rect x="47.70" y="334.92" width="3.00" height="0.33" fill="#0a2370" opacity="0.85"/>
<line x1="49.20" y1="334.62" x2="49.20" y2="334.29" stroke="#333" stroke-width="0.9" />
<line x1="48.30" y1="334.29" x2="50.10" y2="334.29" stroke="#333" stroke-width="0.9" />
<rect x="52.50" y="333.63" width="3.60" height="6.57" fill="#e01818" stroke="#151515" stroke-width="0.75"/>
<rect x="52.80" y="333.93" width="3.00" height="0.66" fill="#700a0a" opacity="0.85"/>
<line x1="54.30" y1="333.63" x2="54.30" y2="332.97" stroke="#333" stroke-width="0.9" />
<line x1="53.40" y1="332.97" x2="55.20" y2="332.97" stroke="#333" stroke-width="0.9" />
<rect x="61.70" y="336.91" width="3.60" height="3.29" fill="#2a1a9e" stroke="#151515" stroke-width="0.75"/>
<rect x="66.80" y="338.89" width="3.60" height="1.31" fill="#44ee22" stroke="#151515" stroke-width="0.75"/>
<rect x="66.80" y="338.89" width="3.60" height="1.31" fill="#111" opacity="0.55"/>
<rect x="71.90" y="269.57" width="3.60" height="70.63" fill="#1446c8" stroke="#151515" stroke-width="0.75"/>
<rect x="72.20" y="269.87" width="3.00" height="9.86" fill="#0a2370" opacity="0.85"/>
<line x1="73.70" y1="269.57" x2="73.70" y2="259.72" stroke="#333" stroke-width="0.9" />
<line x1="72.80" y1="259.72" x2="74.60" y2="259.72" stroke="#333" stroke-width="0.9" />
<rect x="77.00" y="337.24" width="3.60" height="2.96" fill="#e01818" stroke="#151515" stroke-width="0.75"/>
<rect x="77.00" y="337.24" width="3.60" height="2.96" fill="#111" opacity="0.55"/>
<rect x="86.20" y="337.24" width="3.60" height="2.96" fill="#2a1a9e" stroke="#151515" stroke-width="0.75"/>
<rect x="91.30" y="336.26" width="3.60" height="3.94" fill="#44ee22" stroke="#151515" stroke-width="0.75"/>
<rect x="91.30" y="336.26" width="3.60" height="3.94" fill="#111" opacity="0.55"/>
<rect x="96.40" y="301.77" width="3.60" height="38.43" fill="#1446c8" stroke="#151515" stroke-width="0.75"/>
<rect x="96.70" y="302.07" width="3.00" height="3.29" fill="#0a2370" opacity="0.85"/>
<line x1="98.20" y1="301.77" x2="98.20" y2="298.48" stroke="#333" stroke-width="0.9" />
<line x1="97.30" y1="298.48" x2="99.10" y2="298.48" stroke="#333" stroke-width="0.9" />
<rect x="101.50" y="336.91" width="3.60" height="3.29" fill="#e01818" stroke="#151515" stroke-width="0.75"/>
<rect x="101.50" y="336.91" width="3.60" height="3.29" fill="#111" opacity="0.55"/>
<rect x="101.80" y="337.21" width="3.00" height="0.66" fill="#700a0a" opacity="0.85"/>
<line x1="103.30" y1="336.91" x2="103.30" y2="336.26" stroke="#333" stroke-width="0.9" />
<line x1="102.40" y1="336.26" x2="104.20" y2="336.26" stroke="#333" stroke-width="0.9" />
<rect x="110.70" y="334.29" width="3.60" height="5.91" fill="#2a1a9e" stroke="#151515" stroke-width="0.75"/>
<rect x="115.80" y="337.90" width="3.60" height="2.30" fill="#44ee22" stroke="#151515" stroke-width="0.75"/>
<rect x="115.80" y="337.90" width="3.60" height="2.30" fill="#111" opacity="0.55"/>
<rect x="120.90" y="315.89" width="3.60" height="24.31" fill="#1446c8" stroke="#151515" stroke-width="0.75"/>
<rect x="121.20" y="316.19" width="3.00" height="0.66" fill="#0a2370" opacity="0.85"/>
<line x1="122.70" y1="315.89" x2="122.70" y2="315.23" stroke="#333" stroke-width="0.9" />
<line x1="121.80" y1="315.23" x2="123.60" y2="315.23" stroke="#333" stroke-width="0.9" />
<rect x="126.00" y="337.57" width="3.60" height="2.63" fill="#e01818" stroke="#151515" stroke-width="0.75"/>
<rect x="126.00" y="337.57" width="3.60" height="2.63" fill="#111" opacity="0.55"/>
<rect x="135.20" y="332.97" width="3.60" height="7.23" fill="#2a1a9e" stroke="#151515" stroke-width="0.75"/>
<rect x="135.50" y="333.27" width="3.00" height="2.30" fill="#120a50" opacity="0.85"/>
<line x1="137.00" y1="332.97" x2="137.00" y2="330.67" stroke="#333" stroke-width="0.9" />
<line x1="136.10" y1="330.67" x2="137.90" y2="330.67" stroke="#333" stroke-width="0.9" />
<rect x="140.30" y="333.63" width="3.60" height="6.57" fill="#44ee22" stroke="#151515" stroke-width="0.75"/>
<rect x="145.40" y="308.66" width="3.60" height="31.54" fill="#1446c8" stroke="#151515" stroke-width="0.75"/>
<rect x="145.70" y="308.96" width="3.00" height="4.60" fill="#0a2370" opacity="0.85"/>
<line x1="147.20" y1="308.66" x2="147.20" y2="304.06" stroke="#333" stroke-width="0.9" />
<line x1="146.30" y1="304.06" x2="148.10" y2="304.06" stroke="#333" stroke-width="0.9" />
<rect x="150.50" y="336.59" width="3.60" height="3.61" fill="#e01818" stroke="#151515" stroke-width="0.75"/>
<rect x="159.70" y="317.20" width="3.60" height="23.00" fill="#2a1a9e" stroke="#151515" stroke-width="0.75"/>
<rect x="160.00" y="317.50" width="3.00" height="4.27" fill="#120a50" opacity="0.85"/>
<line x1="161.50" y1="317.20" x2="161.50" y2="312.93" stroke="#333" stroke-width="0.9" />
<line x1="160.60" y1="312.93" x2="162.40" y2="312.93" stroke="#333" stroke-width="0.9" />
<rect x="164.80" y="327.72" width="3.60" height="12.48" fill="#44ee22" stroke="#151515" stroke-width="0.75"/>
<rect x="165.10" y="328.02" width="3.00" height="0.66" fill="#1e6e10" opacity="0.85"/>
<line x1="166.60" y1="327.72" x2="166.60" y2="327.06" stroke="#333" stroke-width="0.9" />
<line x1="165.70" y1="327.06" x2="167.50" y2="327.06" stroke="#333" stroke-width="0.9" />
<rect x="169.90" y="314.91" width="3.60" height="25.29" fill="#1446c8" stroke="#151515" stroke-width="0.75"/>
<rect x="170.20" y="315.21" width="3.00" height="2.63" fill="#0a2370" opacity="0.85"/>
<line x1="171.70" y1="314.91" x2="171.70" y2="312.28" stroke="#333" stroke-width="0.9" />
<line x1="170.80" y1="312.28" x2="172.60" y2="312.28" stroke="#333" stroke-width="0.9" />
<rect x="175.00" y="339.54" width="3.60" height="0.66" fill="#e01818" stroke="#151515" stroke-width="0.75"/>
<rect x="175.00" y="339.54" width="3.60" height="0.66" fill="#111" opacity="0.55"/>
<rect x="184.20" y="295.85" width="3.60" height="44.35" fill="#2a1a9e" stroke="#151515" stroke-width="0.75"/>
<rect x="184.50" y="296.15" width="3.00" height="6.57" fill="#120a50" opacity="0.85"/>
<line x1="186.00" y1="295.85" x2="186.00" y2="289.28" stroke="#333" stroke-width="0.9" />
<line x1="185.10" y1="289.28" x2="186.90" y2="289.28" stroke="#333" stroke-width="0.9" />
<rect x="189.30" y="309.32" width="3.60" height="30.88" fill="#44ee22" stroke="#151515" stroke-width="0.75"/>
<rect x="189.60" y="309.62" width="3.00" height="11.17" fill="#1e6e10" opacity="0.85"/>
<line x1="191.10" y1="309.32" x2="191.10" y2="298.15" stroke="#333" stroke-width="0.9" />
<line x1="190.20" y1="298.15" x2="192.00" y2="298.15" stroke="#333" stroke-width="0.9" />
<rect x="194.40" y="298.15" width="3.60" height="42.05" fill="#1446c8" stroke="#151515" stroke-width="0.75"/>
<rect x="194.70" y="298.45" width="3.00" height="5.91" fill="#0a2370" opacity="0.85"/>
<line x1="196.20" y1="298.15" x2="196.20" y2="292.24" stroke="#333" stroke-width="0.9" />
<line x1="195.30" y1="292.24" x2="197.10" y2="292.24" stroke="#333" stroke-width="0.9" />
<rect x="199.50" y="339.54" width="3.60" height="0.66" fill="#e01818" stroke="#151515" stroke-width="0.75"/>
<rect x="199.50" y="339.54" width="3.60" height="0.66" fill="#111" opacity="0.55"/>
<rect x="158.30" y="238.40" width="8.90" height="5.00" fill="#2a1a9e" stroke="#111" stroke-width="1.1"/>
<text x="171.40" y="243.70" font-size="8.47" fill="#222" stroke="#222" stroke-width="0.1" textLength="26.30" lengthAdjust="spacingAndGlyphs" >STEAP1</text>
<rect x="158.30" y="247.53" width="8.90" height="5.00" fill="#44ee22" stroke="#111" stroke-width="1.1"/>
<text x="171.40" y="252.83" font-size="8.47" fill="#222" stroke="#222" stroke-width="0.1" textLength="26.30" lengthAdjust="spacingAndGlyphs" >STEAP2</text>
<rect x="158.30" y="256.66" width="8.90" height="5.00" fill="#1446c8" stroke="#111" stroke-width="1.1"/>
<text x="171.40" y="261.96" font-size="8.47" fill="#222" stroke="#222" stroke-width="0.1" textLength="26.30" lengthAdjust="spacingAndGlyphs" >STEAP3</text>
<rect x="158.30" y="265.79" width="8.90" height="5.00" fill="#e01818" stroke="#111" stroke-width="1.1"/>
<text x="171.40" y="271.09" font-size="8.47" fill="#222" stroke="#222" stroke-width="0.1" textLength="26.30" lengthAdjust="spacingAndGlyphs" >STEAP4</text>
<text x="57.80" y="363.40" font-size="9.68" fill="#333" stroke="#333" stroke-width="0.1" textLength="124.70" lengthAdjust="spacingAndGlyphs" >Days post primary B-cell EBV infection</text>
<text x="12.30" y="331.30" font-size="9.46" fill="#333" stroke="#333" stroke-width="0.1" textLength="81.00" lengthAdjust="spacingAndGlyphs" transform="rotate(-90 12.30 331.30)" >Normalized mRNA reads</text>
<line x1="254.80" y1="244.60" x2="515.00" y2="244.60" stroke="#222" stroke-width="1.1" />
<line x1="255.60" y1="242.40" x2="255.60" y2="244.60" stroke="#222" stroke-width="0.8" />
<line x1="261.55" y1="242.40" x2="261.55" y2="244.60" stroke="#222" stroke-width="0.8" />
<line x1="267.50" y1="242.40" x2="267.50" y2="244.60" stroke="#222" stroke-width="0.8" />
<line x1="273.45" y1="242.40" x2="273.45" y2="244.60" stroke="#222" stroke-width="0.8" />
<line x1="279.40" y1="242.40" x2="279.40" y2="244.60" stroke="#222" stroke-width="0.8" />
<line x1="285.35" y1="242.40" x2="285.35" y2="244.60" stroke="#222" stroke-width="0.8" />
<line x1="291.30" y1="242.40" x2="291.30" y2="244.60" stroke="#222" stroke-width="0.8" />
<line x1="297.25" y1="242.40" x2="297.25" y2="244.60" stroke="#222" stroke-width="0.8" />
<line x1="303.20" y1="242.40" x2="303.20" y2="244.60" stroke="#222" stroke-width="0.8" />
<line x1="309.15" y1="242.40" x2="309.15" y2="244.60" stroke="#222" stroke-width="0.8" />
<line x1="315.10" y1="242.40" x2="315.10" y2="244.60" stroke="#222" stroke-width="0.8" />
<line x1="321.05" y1="242.40" x2="321.05" y2="244.60" stroke="#222" stroke-width="0.8" />
<line x1="327.00" y1="242.40" x2="327.00" y2="244.60" stroke="#222" stroke-width="0.8" />
<line x1="332.95" y1="242.40" x2="332.95" y2="244.60" stroke="#222" stroke-width="0.8" />
<line x1="338.90" y1="242.40" x2="338.90" y2="244.60" stroke="#222" stroke-width="0.8" />
<line x1="344.85" y1="242.40" x2="344.85" y2="244.60" stroke="#222" stroke-width="0.8" />
<line x1="350.80" y1="242.40" x2="350.80" y2="244.60" stroke="#222" stroke-width="0.8" />
<line x1="356.75" y1="242.40" x2="356.75" y2="244.60" stroke="#222" stroke-width="0.8" />
<line x1="362.70" y1="242.40" x2="362.70" y2="244.60" stroke="#222" stroke-width="0.8" />
<line x1="368.65" y1="242.40" x2="368.65" y2="244.60" stroke="#222" stroke-width="0.8" />
<line x1="374.60" y1="242.40" x2="374.60" y2="244.60" stroke="#222" stroke-width="0.8" />
<line x1="380.55" y1="242.40" x2="380.55" y2="244.60" stroke="#222" stroke-width="0.8" />
<line x1="386.50" y1="242.40" x2="386.50" y2="244.60" stroke="#222" stroke-width="0.8" />
<line x1="392.45" y1="242.40" x2="392.45" y2="244.60" stroke="#222" stroke-width="0.8" />
<line x1="398.40" y1="242.40" x2="398.40" y2="244.60" stroke="#222" stroke-width="0.8" />
<line x1="404.35" y1="242.40" x2="404.35" y2="244.60" stroke="#222" stroke-width="0.8" />
<line x1="410.30" y1="242.40" x2="410.30" y2="244.60" stroke="#222" stroke-width="0.8" />
<line x1="416.25" y1="242.40" x2="416.25" y2="244.60" stroke="#222" stroke-width="0.8" />
<line x1="422.20" y1="242.40" x2="422.20" y2="244.60" stroke="#222" stroke-width="0.8" />
<line x1="428.15" y1="242.40" x2="428.15" y2="244.60" stroke="#222" stroke-width="0.8" />
<line x1="434.10" y1="242.40" x2="434.10" y2="244.60" stroke="#222" stroke-width="0.8" />
<line x1="440.05" y1="242.40" x2="440.05" y2="244.60" stroke="#222" stroke-width="0.8" />
<line x1="446.00" y1="242.40" x2="446.00" y2="244.60" stroke="#222" stroke-width="0.8" />
<line x1="451.95" y1="242.40" x2="451.95" y2="244.60" stroke="#222" stroke-width="0.8" />
<line x1="457.90" y1="242.40" x2="457.90" y2="244.60" stroke="#222" stroke-width="0.8" />
<line x1="463.85" y1="242.40" x2="463.85" y2="244.60" stroke="#222" stroke-width="0.8" />
<line x1="469.80" y1="242.40" x2="469.80" y2="244.60" stroke="#222" stroke-width="0.8" />
<line x1="475.75" y1="242.40" x2="475.75" y2="244.60" stroke="#222" stroke-width="0.8" />
<line x1="481.70" y1="242.40" x2="481.70" y2="244.60" stroke="#222" stroke-width="0.8" />
<line x1="487.65" y1="242.40" x2="487.65" y2="244.60" stroke="#222" stroke-width="0.8" />
<line x1="493.60" y1="242.40" x2="493.60" y2="244.60" stroke="#222" stroke-width="0.8" />
<line x1="499.55" y1="242.40" x2="499.55" y2="244.60" stroke="#222" stroke-width="0.8" />
<line x1="505.50" y1="242.40" x2="505.50" y2="244.60" stroke="#222" stroke-width="0.8" />
<line x1="511.45" y1="242.40" x2="511.45" y2="244.60" stroke="#222" stroke-width="0.8" />
<text x="323.2" y="238.6" font-size="8.2" fill="#222" textLength="15.6" lengthAdjust="spacingAndGlyphs">1 kb</text>
<line x1="321.40" y1="240.40" x2="340.20" y2="240.40" stroke="#222" stroke-width="1.0" />
<text x="214.00" y="250.30" font-size="7.92" fill="#222" stroke="#222" stroke-width="0.1" textLength="28.60" lengthAdjust="spacingAndGlyphs" >EBNA2</text>
<text x="246.90" y="249.70" font-size="7.92" fill="#222" stroke="#222" stroke-width="0.1" textLength="4.00" lengthAdjust="spacingAndGlyphs" >4</text>
<path d="M255.4,244.50 H253.7 V252.30 H255.4" fill="none" stroke="#222" stroke-width="0.9"/>
<text x="206.60" y="260.30" font-size="7.92" fill="#222" stroke="#222" stroke-width="0.1" textLength="30.30" lengthAdjust="spacingAndGlyphs" >EBNA-LP</text>
<text x="242.90" y="259.70" font-size="7.92" fill="#222" stroke="#222" stroke-width="0.1" textLength="8.00" lengthAdjust="spacingAndGlyphs" >74</text>
<path d="M255.4,254.50 H253.7 V262.30 H255.4" fill="none" stroke="#222" stroke-width="0.9"/>
<text x="209.10" y="270.30" font-size="7.92" fill="#222" stroke="#222" stroke-width="0.1" textLength="29.40" lengthAdjust="spacingAndGlyphs" >EBNA3A</text>
<text x="242.60" y="269.70" font-size="7.92" fill="#222" stroke="#222" stroke-width="0.1" textLength="8.30" lengthAdjust="spacingAndGlyphs" >84</text>
<path d="M255.4,264.50 H253.7 V272.30 H255.4" fill="none" stroke="#222" stroke-width="0.9"/>
<text x="209.10" y="280.30" font-size="7.92" fill="#222" stroke="#222" stroke-width="0.1" textLength="28.60" lengthAdjust="spacingAndGlyphs" >EBNA3C</text>
<text x="244.20" y="279.70" font-size="7.92" fill="#222" stroke="#222" stroke-width="0.1" textLength="6.70" lengthAdjust="spacingAndGlyphs" >17</text>
<path d="M255.4,274.50 H253.7 V282.30 H255.4" fill="none" stroke="#222" stroke-width="0.9"/>
<text x="220.50" y="290.30" font-size="7.92" fill="#222" stroke="#222" stroke-width="0.1" textLength="15.50" lengthAdjust="spacingAndGlyphs" >RelA</text>
<text x="238.50" y="289.70" font-size="7.92" fill="#222" stroke="#222" stroke-width="0.1" textLength="12.40" lengthAdjust="spacingAndGlyphs" >519</text>
<path d="M255.4,284.50 H253.7 V292.30 H255.4" fill="none" stroke="#222" stroke-width="0.9"/>
<text x="220.50" y="300.30" font-size="7.92" fill="#222" stroke="#222" stroke-width="0.1" textLength="15.50" lengthAdjust="spacingAndGlyphs" >RelB</text>
<text x="238.50" y="299.70" font-size="7.92" fill="#222" stroke="#222" stroke-width="0.1" textLength="12.40" lengthAdjust="spacingAndGlyphs" >175</text>
<path d="M255.4,294.50 H253.7 V302.30 H255.4" fill="none" stroke="#222" stroke-width="0.9"/>
<text x="221.30" y="310.30" font-size="7.92" fill="#222" stroke="#222" stroke-width="0.1" textLength="14.70" lengthAdjust="spacingAndGlyphs" >cRel</text>
<text x="238.50" y="309.70" font-size="7.92" fill="#222" stroke="#222" stroke-width="0.1" textLength="12.40" lengthAdjust="spacingAndGlyphs" >274</text>
<path d="M255.4,304.50 H253.7 V312.30 H255.4" fill="none" stroke="#222" stroke-width="0.9"/>
<text x="223.80" y="320.30" font-size="7.92" fill="#222" stroke="#222" stroke-width="0.1" textLength="12.70" lengthAdjust="spacingAndGlyphs" >p50</text>
<text x="238.50" y="319.70" font-size="7.92" fill="#222" stroke="#222" stroke-width="0.1" textLength="12.40" lengthAdjust="spacingAndGlyphs" >319</text>
<path d="M255.4,314.50 H253.7 V322.30 H255.4" fill="none" stroke="#222" stroke-width="0.9"/>
<text x="223.80" y="330.30" font-size="7.92" fill="#222" stroke="#222" stroke-width="0.1" textLength="12.70" lengthAdjust="spacingAndGlyphs" >p52</text>
<text x="238.50" y="329.70" font-size="7.92" fill="#222" stroke="#222" stroke-width="0.1" textLength="12.40" lengthAdjust="spacingAndGlyphs" >327</text>
<path d="M255.4,324.50 H253.7 V332.30 H255.4" fill="none" stroke="#222" stroke-width="0.9"/>
<text x="208.60" y="340.30" font-size="7.92" fill="#222" stroke="#222" stroke-width="0.1" textLength="30.70" lengthAdjust="spacingAndGlyphs" >H3K27Ac</text>
<text x="242.90" y="339.70" font-size="7.92" fill="#222" stroke="#222" stroke-width="0.1" textLength="8.00" lengthAdjust="spacingAndGlyphs" >22</text>
<path d="M255.4,334.50 H253.7 V342.30 H255.4" fill="none" stroke="#222" stroke-width="0.9"/>
<path d="M257.00,251.50 L257.00,251.43 L257.50,251.32 L258.00,251.09 L258.50,250.70 L259.00,250.16 L259.50,249.56 L260.00,249.08 L260.50,248.90 L261.00,249.08 L261.50,249.56 L262.00,250.16 L262.50,250.70 L263.00,251.09 L263.50,251.32 L264.00,251.43 L264.00,251.50 Z" fill="#ee1c25"/>
<path d="M262.00,251.50 L262.00,251.42 L262.29,251.30 L262.57,251.06 L262.86,250.64 L263.14,250.06 L263.43,249.41 L263.71,248.90 L264.00,248.70 L264.29,248.90 L264.57,249.41 L264.86,250.06 L265.14,250.64 L265.43,251.06 L265.71,251.30 L266.00,251.42 L266.00,251.50 Z" fill="#ee1c25"/>
<path d="M271.30,251.50 L271.30,251.36 L271.49,251.15 L271.67,250.71 L271.86,249.96 L272.04,248.92 L272.23,247.78 L272.41,246.86 L272.60,246.50 L272.79,246.86 L272.97,247.78 L273.16,248.92 L273.34,249.96 L273.53,250.71 L273.71,251.15 L273.90,251.36 L273.90,251.50 Z" fill="#ee1c25"/>
<path d="M275.00,251.50 L275.00,251.46 L275.17,251.39 L275.34,251.26 L275.51,251.04 L275.69,250.73 L275.86,250.38 L276.03,250.11 L276.20,250.00 L276.37,250.11 L276.54,250.38 L276.71,250.73 L276.89,251.04 L277.06,251.26 L277.23,251.39 L277.40,251.46 L277.40,251.50 Z" fill="#ee1c25"/>
<path d="M289.00,251.50 L289.00,251.47 L289.21,251.42 L289.43,251.31 L289.64,251.13 L289.86,250.88 L290.07,250.61 L290.29,250.39 L290.50,250.30 L290.71,250.39 L290.93,250.61 L291.14,250.88 L291.36,251.13 L291.57,251.31 L291.79,251.42 L292.00,251.47 L292.00,251.50 Z" fill="#ee1c25"/>
<path d="M294.90,251.50 L294.90,251.46 L295.13,251.39 L295.36,251.26 L295.59,251.04 L295.81,250.73 L296.04,250.38 L296.27,250.11 L296.50,250.00 L296.73,250.11 L296.96,250.38 L297.19,250.73 L297.41,251.04 L297.64,251.26 L297.87,251.39 L298.10,251.46 L298.10,251.50 Z" fill="#ee1c25"/>
<path d="M302.70,251.50 L302.70,251.46 L302.96,251.39 L303.21,251.26 L303.47,251.04 L303.73,250.73 L303.99,250.38 L304.24,250.11 L304.50,250.00 L304.76,250.11 L305.01,250.38 L305.27,250.73 L305.53,251.04 L305.79,251.26 L306.04,251.39 L306.30,251.46 L306.30,251.50 Z" fill="#ee1c25"/>
<path d="M310.00,251.50 L310.00,251.43 L310.36,251.32 L310.71,251.09 L311.07,250.70 L311.43,250.16 L311.79,249.56 L312.14,249.08 L312.50,248.90 L312.86,249.08 L313.21,249.56 L313.57,250.16 L313.93,250.70 L314.29,251.09 L314.64,251.32 L315.00,251.43 L315.00,251.50 Z" fill="#ee1c25"/>
<path d="M315.10,251.50 L315.10,251.35 L315.41,251.11 L315.73,250.61 L316.04,249.78 L316.36,248.61 L316.67,247.33 L316.99,246.30 L317.30,245.90 L317.61,246.30 L317.93,247.33 L318.24,248.61 L318.56,249.78 L318.87,250.61 L319.19,251.11 L319.50,251.35 L319.50,251.50 Z" fill="#ee1c25"/>
<path d="M319.00,251.50 L319.00,251.43 L319.29,251.32 L319.57,251.10 L319.86,250.73 L320.14,250.21 L320.43,249.64 L320.71,249.18 L321.00,249.00 L321.29,249.18 L321.57,249.64 L321.86,250.21 L322.14,250.73 L322.43,251.10 L322.71,251.32 L323.00,251.43 L323.00,251.50 Z" fill="#ee1c25"/>
<path d="M323.50,251.50 L323.50,251.47 L323.71,251.43 L323.93,251.34 L324.14,251.19 L324.36,250.98 L324.57,250.76 L324.79,250.57 L325.00,250.50 L325.21,250.57 L325.43,250.76 L325.64,250.98 L325.86,251.19 L326.07,251.34 L326.29,251.43 L326.50,251.47 L326.50,251.50 Z" fill="#ee1c25"/>
<path d="M326.80,251.50 L326.80,251.44 L327.26,251.34 L327.71,251.15 L328.17,250.82 L328.63,250.37 L329.09,249.86 L329.54,249.46 L330.00,249.30 L330.46,249.46 L330.91,249.86 L331.37,250.37 L331.83,250.82 L332.29,251.15 L332.74,251.34 L333.20,251.44 L333.20,251.50 Z" fill="#ee1c25"/>
<path d="M332.50,251.50 L332.50,251.46 L332.71,251.39 L332.93,251.26 L333.14,251.04 L333.36,250.73 L333.57,250.38 L333.79,250.11 L334.00,250.00 L334.21,250.11 L334.43,250.38 L334.64,250.73 L334.86,251.04 L335.07,251.26 L335.29,251.39 L335.50,251.46 L335.50,251.50 Z" fill="#ee1c25"/>
<path d="M338.70,251.50 L338.70,251.43 L338.96,251.32 L339.21,251.10 L339.47,250.73 L339.73,250.21 L339.99,249.64 L340.24,249.18 L340.50,249.00 L340.76,249.18 L341.01,249.64 L341.27,250.21 L341.53,250.73 L341.79,251.10 L342.04,251.32 L342.30,251.43 L342.30,251.50 Z" fill="#ee1c25"/>
<path d="M342.00,251.50 L342.00,251.41 L342.29,251.26 L342.57,250.96 L342.86,250.45 L343.14,249.75 L343.43,248.97 L343.71,248.34 L344.00,248.10 L344.29,248.34 L344.57,248.97 L344.86,249.75 L345.14,250.45 L345.43,250.96 L345.71,251.26 L346.00,251.41 L346.00,251.50 Z" fill="#ee1c25"/>
<path d="M346.00,251.50 L346.00,251.41 L346.29,251.25 L346.57,250.95 L346.86,250.42 L347.14,249.70 L347.43,248.89 L347.71,248.25 L348.00,248.00 L348.29,248.25 L348.57,248.89 L348.86,249.70 L349.14,250.42 L349.43,250.95 L349.71,251.25 L350.00,251.41 L350.00,251.50 Z" fill="#ee1c25"/>
<path d="M349.80,251.50 L349.80,251.43 L349.97,251.32 L350.14,251.10 L350.31,250.73 L350.49,250.21 L350.66,249.64 L350.83,249.18 L351.00,249.00 L351.17,249.18 L351.34,249.64 L351.51,250.21 L351.69,250.73 L351.86,251.10 L352.03,251.32 L352.20,251.43 L352.20,251.50 Z" fill="#ee1c25"/>
<path d="M367.40,251.50 L367.40,251.47 L367.54,251.43 L367.69,251.34 L367.83,251.19 L367.97,250.98 L368.11,250.76 L368.26,250.57 L368.40,250.50 L368.54,250.57 L368.69,250.76 L368.83,250.98 L368.97,251.19 L369.11,251.34 L369.26,251.43 L369.40,251.47 L369.40,251.50 Z" fill="#ee1c25"/>
<path d="M374.90,251.50 L374.90,251.36 L375.14,251.15 L375.39,250.71 L375.63,249.96 L375.87,248.92 L376.11,247.78 L376.36,246.86 L376.60,246.50 L376.84,246.86 L377.09,247.78 L377.33,248.92 L377.57,249.96 L377.81,250.71 L378.06,251.15 L378.30,251.36 L378.30,251.50 Z" fill="#ee1c25"/>
<path d="M378.20,251.50 L378.20,251.46 L378.39,251.39 L378.57,251.26 L378.76,251.04 L378.94,250.73 L379.13,250.38 L379.31,250.11 L379.50,250.00 L379.69,250.11 L379.87,250.38 L380.06,250.73 L380.24,251.04 L380.43,251.26 L380.61,251.39 L380.80,251.46 L380.80,251.50 Z" fill="#ee1c25"/>
<path d="M386.80,251.50 L386.80,251.47 L386.97,251.43 L387.14,251.34 L387.31,251.19 L387.49,250.98 L387.66,250.76 L387.83,250.57 L388.00,250.50 L388.17,250.57 L388.34,250.76 L388.51,250.98 L388.69,251.19 L388.86,251.34 L389.03,251.43 L389.20,251.47 L389.20,251.50 Z" fill="#ee1c25"/>
<path d="M390.80,251.50 L390.80,251.47 L390.97,251.43 L391.14,251.34 L391.31,251.19 L391.49,250.98 L391.66,250.76 L391.83,250.57 L392.00,250.50 L392.17,250.57 L392.34,250.76 L392.51,250.98 L392.69,251.19 L392.86,251.34 L393.03,251.43 L393.20,251.47 L393.20,251.50 Z" fill="#ee1c25"/>
<path d="M408.30,251.50 L408.30,251.44 L408.66,251.34 L409.01,251.15 L409.37,250.82 L409.73,250.37 L410.09,249.86 L410.44,249.46 L410.80,249.30 L411.16,249.46 L411.51,249.86 L411.87,250.37 L412.23,250.82 L412.59,251.15 L412.94,251.34 L413.30,251.44 L413.30,251.50 Z" fill="#ee1c25"/>
<path d="M418.80,251.50 L418.80,251.47 L418.97,251.42 L419.14,251.33 L419.31,251.16 L419.49,250.93 L419.66,250.68 L419.83,250.48 L420.00,250.40 L420.17,250.48 L420.34,250.68 L420.51,250.93 L420.69,251.16 L420.86,251.33 L421.03,251.42 L421.20,251.47 L421.20,251.50 Z" fill="#ee1c25"/>
<path d="M427.80,251.50 L427.80,251.47 L427.97,251.43 L428.14,251.34 L428.31,251.19 L428.49,250.98 L428.66,250.76 L428.83,250.57 L429.00,250.50 L429.17,250.57 L429.34,250.76 L429.51,250.98 L429.69,251.19 L429.86,251.34 L430.03,251.43 L430.20,251.47 L430.20,251.50 Z" fill="#ee1c25"/>
<path d="M452.90,251.50 L452.90,251.40 L453.13,251.25 L453.36,250.93 L453.59,250.39 L453.81,249.65 L454.04,248.82 L454.27,248.16 L454.50,247.90 L454.73,248.16 L454.96,248.82 L455.19,249.65 L455.41,250.39 L455.64,250.93 L455.87,251.25 L456.10,251.40 L456.10,251.50 Z" fill="#ee1c25"/>
<path d="M467.20,251.50 L467.20,251.46 L467.46,251.39 L467.71,251.26 L467.97,251.04 L468.23,250.73 L468.49,250.38 L468.74,250.11 L469.00,250.00 L469.26,250.11 L469.51,250.38 L469.77,250.73 L470.03,251.04 L470.29,251.26 L470.54,251.39 L470.80,251.46 L470.80,251.50 Z" fill="#ee1c25"/>
<path d="M477.30,251.50 L477.30,251.47 L477.47,251.43 L477.64,251.34 L477.81,251.19 L477.99,250.98 L478.16,250.76 L478.33,250.57 L478.50,250.50 L478.67,250.57 L478.84,250.76 L479.01,250.98 L479.19,251.19 L479.36,251.34 L479.53,251.43 L479.70,251.47 L479.70,251.50 Z" fill="#ee1c25"/>
<path d="M487.80,251.50 L487.80,251.47 L487.97,251.43 L488.14,251.34 L488.31,251.19 L488.49,250.98 L488.66,250.76 L488.83,250.57 L489.00,250.50 L489.17,250.57 L489.34,250.76 L489.51,250.98 L489.69,251.19 L489.86,251.34 L490.03,251.43 L490.20,251.47 L490.20,251.50 Z" fill="#ee1c25"/>
<path d="M505.90,251.50 L505.90,251.41 L506.27,251.27 L506.64,250.99 L507.01,250.52 L507.39,249.85 L507.76,249.12 L508.13,248.53 L508.50,248.30 L508.87,248.53 L509.24,249.12 L509.61,249.85 L509.99,250.52 L510.36,250.99 L510.73,251.27 L511.10,251.41 L511.10,251.50 Z" fill="#ee1c25"/>
<rect x="257.00" y="250.30" width="6.00" height="1.20" fill="#ee1c25" />
<rect x="310.50" y="250.30" width="13.00" height="1.20" fill="#ee1c25" />
<rect x="341.00" y="250.30" width="11.00" height="1.20" fill="#ee1c25" />
<path d="M258.30,262.70 L258.30,262.51 L259.09,262.21 L259.87,261.59 L260.66,260.55 L261.44,259.09 L262.23,257.49 L263.01,256.20 L263.80,255.70 L264.59,256.20 L265.37,257.49 L266.16,259.09 L266.94,260.55 L267.73,261.59 L268.51,262.21 L269.30,262.51 L269.30,262.70 Z" fill="#16961a"/>
<path d="M341.50,262.70 L341.50,262.65 L342.00,262.56 L342.50,262.38 L343.00,262.08 L343.50,261.67 L344.00,261.21 L344.50,260.84 L345.00,260.70 L345.50,260.84 L346.00,261.21 L346.50,261.67 L347.00,262.08 L347.50,262.38 L348.00,262.56 L348.50,262.65 L348.50,262.70 Z" fill="#16961a"/>
<path d="M347.00,262.70 L347.00,262.63 L347.29,262.52 L347.57,262.29 L347.86,261.90 L348.14,261.36 L348.43,260.76 L348.71,260.28 L349.00,260.10 L349.29,260.28 L349.57,260.76 L349.86,261.36 L350.14,261.90 L350.43,262.29 L350.71,262.52 L351.00,262.63 L351.00,262.70 Z" fill="#16961a"/>
<path d="M314.00,262.70 L314.00,262.66 L314.57,262.59 L315.14,262.46 L315.71,262.24 L316.29,261.93 L316.86,261.58 L317.43,261.31 L318.00,261.20 L318.57,261.31 L319.14,261.58 L319.71,261.93 L320.29,262.24 L320.86,262.46 L321.43,262.59 L322.00,262.66 L322.00,262.70 Z" fill="#16961a"/>
<path d="M319.50,262.70 L319.50,262.66 L319.86,262.59 L320.21,262.45 L320.57,262.21 L320.93,261.88 L321.29,261.51 L321.64,261.21 L322.00,261.10 L322.36,261.21 L322.71,261.51 L323.07,261.88 L323.43,262.21 L323.79,262.45 L324.14,262.59 L324.50,262.66 L324.50,262.70 Z" fill="#16961a"/>
<path d="M457.00,262.70 L457.00,262.67 L457.57,262.62 L458.14,262.51 L458.71,262.33 L459.29,262.08 L459.86,261.81 L460.43,261.59 L461.00,261.50 L461.57,261.59 L462.14,261.81 L462.71,262.08 L463.29,262.33 L463.86,262.51 L464.43,262.62 L465.00,262.67 L465.00,262.70 Z" fill="#16961a"/>
<path d="M505.80,262.70 L505.80,262.62 L506.26,262.50 L506.71,262.26 L507.17,261.84 L507.63,261.26 L508.09,260.61 L508.54,260.10 L509.00,259.90 L509.46,260.10 L509.91,260.61 L510.37,261.26 L510.83,261.84 L511.29,262.26 L511.74,262.50 L512.20,262.62 L512.20,262.70 Z" fill="#16961a"/>
<path d="M503.00,262.70 L503.00,262.66 L503.29,262.59 L503.57,262.46 L503.86,262.24 L504.14,261.93 L504.43,261.58 L504.71,261.31 L505.00,261.20 L505.29,261.31 L505.57,261.58 L505.86,261.93 L506.14,262.24 L506.43,262.46 L506.71,262.59 L507.00,262.66 L507.00,262.70 Z" fill="#16961a"/>
<rect x="255.00" y="261.80" width="4.00" height="0.90" fill="#16961a" />
<rect x="267.00" y="261.80" width="4.00" height="0.90" fill="#16961a" />
<rect x="274.00" y="261.80" width="1.50" height="0.90" fill="#16961a" />
<rect x="282.00" y="261.80" width="1.50" height="0.90" fill="#16961a" />
<rect x="296.50" y="261.80" width="1.50" height="0.90" fill="#16961a" />
<rect x="305.00" y="261.80" width="1.50" height="0.90" fill="#16961a" />
<rect x="313.50" y="261.80" width="11.00" height="0.90" fill="#16961a" />
<rect x="330.00" y="261.80" width="1.50" height="0.90" fill="#16961a" />
<rect x="341.50" y="261.80" width="10.00" height="0.90" fill="#16961a" />
<rect x="367.50" y="261.80" width="1.50" height="0.90" fill="#16961a" />
<rect x="387.00" y="261.80" width="1.50" height="0.90" fill="#16961a" />
<rect x="408.00" y="261.80" width="1.50" height="0.90" fill="#16961a" />
<rect x="423.50" y="261.80" width="1.50" height="0.90" fill="#16961a" />
<rect x="456.00" y="261.80" width="11.00" height="0.90" fill="#16961a" />
<rect x="479.00" y="261.80" width="1.50" height="0.90" fill="#16961a" />
<rect x="503.00" y="261.80" width="12.00" height="0.90" fill="#16961a" />
<path d="M318.20,273.70 L318.20,273.47 L318.57,273.10 L318.94,272.35 L319.31,271.08 L319.69,269.32 L320.06,267.37 L320.43,265.80 L320.80,265.20 L321.17,265.80 L321.54,267.37 L321.91,269.32 L322.29,271.08 L322.66,272.35 L323.03,273.10 L323.40,273.47 L323.40,273.70 Z" fill="#f5a10d"/>
<path d="M313.50,273.70 L313.50,273.65 L313.86,273.56 L314.21,273.38 L314.57,273.08 L314.93,272.67 L315.29,272.21 L315.64,271.84 L316.00,271.70 L316.36,271.84 L316.71,272.21 L317.07,272.67 L317.43,273.08 L317.79,273.38 L318.14,273.56 L318.50,273.65 L318.50,273.70 Z" fill="#f5a10d"/>
<path d="M341.00,273.70 L341.00,273.65 L341.50,273.56 L342.00,273.38 L342.50,273.08 L343.00,272.67 L343.50,272.21 L344.00,271.84 L344.50,271.70 L345.00,271.84 L345.50,272.21 L346.00,272.67 L346.50,273.08 L347.00,273.38 L347.50,273.56 L348.00,273.65 L348.00,273.70 Z" fill="#f5a10d"/>
<path d="M437.50,273.70 L437.50,273.66 L437.86,273.59 L438.21,273.46 L438.57,273.24 L438.93,272.93 L439.29,272.58 L439.64,272.31 L440.00,272.20 L440.36,272.31 L440.71,272.58 L441.07,272.93 L441.43,273.24 L441.79,273.46 L442.14,273.59 L442.50,273.66 L442.50,273.70 Z" fill="#f5a10d"/>
<path d="M464.00,273.70 L464.00,273.67 L464.29,273.62 L464.57,273.51 L464.86,273.33 L465.14,273.08 L465.43,272.81 L465.71,272.59 L466.00,272.50 L466.29,272.59 L466.57,272.81 L466.86,273.08 L467.14,273.33 L467.43,273.51 L467.71,273.62 L468.00,273.67 L468.00,273.70 Z" fill="#f5a10d"/>
<rect x="256.00" y="272.80" width="2.00" height="0.90" fill="#f5a10d" />
<rect x="269.00" y="272.80" width="2.00" height="0.90" fill="#f5a10d" />
<rect x="306.50" y="272.80" width="2.00" height="0.90" fill="#f5a10d" />
<rect x="311.00" y="272.80" width="2.00" height="0.90" fill="#f5a10d" />
<rect x="315.00" y="272.80" width="10.00" height="0.90" fill="#f5a10d" />
<rect x="328.00" y="272.80" width="2.00" height="0.90" fill="#f5a10d" />
<rect x="337.00" y="272.80" width="2.00" height="0.90" fill="#f5a10d" />
<rect x="342.00" y="272.80" width="8.00" height="0.90" fill="#f5a10d" />
<rect x="350.00" y="272.80" width="2.00" height="0.90" fill="#f5a10d" />
<rect x="357.00" y="272.80" width="2.00" height="0.90" fill="#f5a10d" />
<rect x="370.00" y="272.80" width="2.00" height="0.90" fill="#f5a10d" />
<rect x="385.00" y="272.80" width="1.50" height="0.90" fill="#f5a10d" />
<rect x="398.00" y="272.80" width="1.50" height="0.90" fill="#f5a10d" />
<rect x="437.00" y="272.80" width="6.00" height="0.90" fill="#f5a10d" />
<rect x="463.00" y="272.80" width="6.00" height="0.90" fill="#f5a10d" />
<path d="M259.00,279.70 L259.00,279.57 L259.64,279.36 L260.29,278.94 L260.93,278.22 L261.57,277.23 L262.21,276.13 L262.86,275.24 L263.50,274.90 L264.14,275.24 L264.79,276.13 L265.43,277.23 L266.07,278.22 L266.71,278.94 L267.36,279.36 L268.00,279.57 L268.00,279.70 Z" fill="#f5a10d"/>
<path d="M265.00,279.70 L265.00,279.64 L265.36,279.53 L265.71,279.32 L266.07,278.96 L266.43,278.46 L266.79,277.91 L267.14,277.47 L267.50,277.30 L267.86,277.47 L268.21,277.91 L268.57,278.46 L268.93,278.96 L269.29,279.32 L269.64,279.53 L270.00,279.64 L270.00,279.70 Z" fill="#f5a10d"/>
<path d="M301.80,279.70 L301.80,279.62 L302.06,279.49 L302.31,279.22 L302.57,278.78 L302.83,278.15 L303.09,277.47 L303.34,276.91 L303.60,276.70 L303.86,276.91 L304.11,277.47 L304.37,278.15 L304.63,278.78 L304.89,279.22 L305.14,279.49 L305.40,279.62 L305.40,279.70 Z" fill="#f5a10d"/>
<path d="M307.00,279.70 L307.00,279.65 L307.36,279.57 L307.71,279.41 L308.07,279.15 L308.43,278.77 L308.79,278.36 L309.14,278.03 L309.50,277.90 L309.86,278.03 L310.21,278.36 L310.57,278.77 L310.93,279.15 L311.29,279.41 L311.64,279.57 L312.00,279.65 L312.00,279.70 Z" fill="#f5a10d"/>
<path d="M316.60,279.70 L316.60,279.60 L317.11,279.45 L317.63,279.13 L318.14,278.59 L318.66,277.85 L319.17,277.02 L319.69,276.36 L320.20,276.10 L320.71,276.36 L321.23,277.02 L321.74,277.85 L322.26,278.59 L322.77,279.13 L323.29,279.45 L323.80,279.60 L323.80,279.70 Z" fill="#f5a10d"/>
<path d="M332.00,279.70 L332.00,279.64 L332.57,279.54 L333.14,279.35 L333.71,279.02 L334.29,278.57 L334.86,278.06 L335.43,277.66 L336.00,277.50 L336.57,277.66 L337.14,278.06 L337.71,278.57 L338.29,279.02 L338.86,279.35 L339.43,279.54 L340.00,279.64 L340.00,279.70 Z" fill="#f5a10d"/>
<path d="M339.00,279.70 L339.00,279.66 L339.29,279.59 L339.57,279.46 L339.86,279.24 L340.14,278.93 L340.43,278.58 L340.71,278.31 L341.00,278.20 L341.29,278.31 L341.57,278.58 L341.86,278.93 L342.14,279.24 L342.43,279.46 L342.71,279.59 L343.00,279.66 L343.00,279.70 Z" fill="#f5a10d"/>
<path d="M345.20,279.70 L345.20,279.62 L345.46,279.49 L345.71,279.22 L345.97,278.78 L346.23,278.15 L346.49,277.47 L346.74,276.91 L347.00,276.70 L347.26,276.91 L347.51,277.47 L347.77,278.15 L348.03,278.78 L348.29,279.22 L348.54,279.49 L348.80,279.62 L348.80,279.70 Z" fill="#f5a10d"/>
<path d="M369.30,279.70 L369.30,279.66 L369.51,279.59 L369.73,279.46 L369.94,279.24 L370.16,278.93 L370.37,278.58 L370.59,278.31 L370.80,278.20 L371.01,278.31 L371.23,278.58 L371.44,278.93 L371.66,279.24 L371.87,279.46 L372.09,279.59 L372.30,279.66 L372.30,279.70 Z" fill="#f5a10d"/>
<path d="M382.60,279.70 L382.60,279.65 L382.89,279.56 L383.17,279.38 L383.46,279.08 L383.74,278.67 L384.03,278.21 L384.31,277.84 L384.60,277.70 L384.89,277.84 L385.17,278.21 L385.46,278.67 L385.74,279.08 L386.03,279.38 L386.31,279.56 L386.60,279.65 L386.60,279.70 Z" fill="#f5a10d"/>
<path d="M435.00,279.70 L435.00,279.62 L435.50,279.49 L436.00,279.22 L436.50,278.78 L437.00,278.15 L437.50,277.47 L438.00,276.91 L438.50,276.70 L439.00,276.91 L439.50,277.47 L440.00,278.15 L440.50,278.78 L441.00,279.22 L441.50,279.49 L442.00,279.62 L442.00,279.70 Z" fill="#f5a10d"/>
<path d="M446.20,279.70 L446.20,279.67 L446.41,279.63 L446.63,279.54 L446.84,279.39 L447.06,279.18 L447.27,278.96 L447.49,278.77 L447.70,278.70 L447.91,278.77 L448.13,278.96 L448.34,279.18 L448.56,279.39 L448.77,279.54 L448.99,279.63 L449.20,279.67 L449.20,279.70 Z" fill="#f5a10d"/>
<path d="M462.10,279.70 L462.10,279.63 L462.46,279.52 L462.81,279.29 L463.17,278.90 L463.53,278.36 L463.89,277.76 L464.24,277.28 L464.60,277.10 L464.96,277.28 L465.31,277.76 L465.67,278.36 L466.03,278.90 L466.39,279.29 L466.74,279.52 L467.10,279.63 L467.10,279.70 Z" fill="#f5a10d"/>
<path d="M482.10,279.70 L482.10,279.63 L482.46,279.52 L482.81,279.29 L483.17,278.90 L483.53,278.36 L483.89,277.76 L484.24,277.28 L484.60,277.10 L484.96,277.28 L485.31,277.76 L485.67,278.36 L486.03,278.90 L486.39,279.29 L486.74,279.52 L487.10,279.63 L487.10,279.70 Z" fill="#f5a10d"/>
<path d="M489.00,279.70 L489.00,279.65 L489.29,279.56 L489.57,279.38 L489.86,279.08 L490.14,278.67 L490.43,278.21 L490.71,277.84 L491.00,277.70 L491.29,277.84 L491.57,278.21 L491.86,278.67 L492.14,279.08 L492.43,279.38 L492.71,279.56 L493.00,279.65 L493.00,279.70 Z" fill="#f5a10d"/>
<path d="M494.50,279.70 L494.50,279.66 L494.71,279.59 L494.93,279.46 L495.14,279.24 L495.36,278.93 L495.57,278.58 L495.79,278.31 L496.00,278.20 L496.21,278.31 L496.43,278.58 L496.64,278.93 L496.86,279.24 L497.07,279.46 L497.29,279.59 L497.50,279.66 L497.50,279.70 Z" fill="#f5a10d"/>
<rect x="255.00" y="278.80" width="2.00" height="0.90" fill="#f5a10d" />
<rect x="272.50" y="278.80" width="2.00" height="0.90" fill="#f5a10d" />
<rect x="277.00" y="278.80" width="2.00" height="0.90" fill="#f5a10d" />
<rect x="283.00" y="278.80" width="2.00" height="0.90" fill="#f5a10d" />
<rect x="288.00" y="278.80" width="6.00" height="0.90" fill="#f5a10d" />
<rect x="297.00" y="278.80" width="2.00" height="0.90" fill="#f5a10d" />
<rect x="326.00" y="278.80" width="2.00" height="0.90" fill="#f5a10d" />
<rect x="360.00" y="278.80" width="1.50" height="0.90" fill="#f5a10d" />
<rect x="376.00" y="278.80" width="1.50" height="0.90" fill="#f5a10d" />
<rect x="415.00" y="278.80" width="1.50" height="0.90" fill="#f5a10d" />
<rect x="454.00" y="278.80" width="2.00" height="0.90" fill="#f5a10d" />
<rect x="473.00" y="278.80" width="1.50" height="0.90" fill="#f5a10d" />
<rect x="510.00" y="278.80" width="1.50" height="0.90" fill="#f5a10d" />
<path d="M313.70,293.20 L313.70,292.98 L314.09,292.64 L314.47,291.93 L314.86,290.74 L315.24,289.08 L315.63,287.24 L316.01,285.77 L316.40,285.20 L316.79,285.77 L317.17,287.24 L317.56,289.08 L317.94,290.74 L318.33,291.93 L318.71,292.64 L319.10,292.98 L319.10,293.20 Z" fill="#4a4a0e"/>
<path d="M260.20,293.20 L260.20,293.16 L260.84,293.09 L261.49,292.95 L262.13,292.71 L262.77,292.38 L263.41,292.01 L264.06,291.71 L264.70,291.60 L265.34,291.71 L265.99,292.01 L266.63,292.38 L267.27,292.71 L267.91,292.95 L268.56,293.09 L269.20,293.16 L269.20,293.20 Z" fill="#4a4a0e"/>
<rect x="270.00" y="292.30" width="2.00" height="0.90" fill="#a4a470" />
<rect x="276.00" y="292.30" width="6.00" height="0.90" fill="#a4a470" />
<rect x="279.00" y="292.30" width="1.50" height="0.90" fill="#a4a470" />
<rect x="282.00" y="292.30" width="6.00" height="0.90" fill="#a4a470" />
<rect x="285.00" y="292.30" width="6.00" height="0.90" fill="#a4a470" />
<rect x="291.00" y="292.30" width="4.00" height="0.90" fill="#a4a470" />
<rect x="294.00" y="292.30" width="1.50" height="0.90" fill="#a4a470" />
<rect x="303.00" y="292.30" width="2.00" height="0.90" fill="#a4a470" />
<rect x="339.00" y="292.30" width="1.50" height="0.90" fill="#a4a470" />
<rect x="348.00" y="292.30" width="6.00" height="0.90" fill="#a4a470" />
<rect x="381.00" y="292.30" width="2.00" height="0.90" fill="#a4a470" />
<rect x="396.00" y="292.30" width="2.50" height="0.90" fill="#a4a470" />
<rect x="408.00" y="292.30" width="4.00" height="0.90" fill="#a4a470" />
<rect x="417.00" y="292.30" width="2.00" height="0.90" fill="#a4a470" />
<rect x="420.00" y="292.30" width="6.00" height="0.90" fill="#a4a470" />
<rect x="423.00" y="292.30" width="1.50" height="0.90" fill="#a4a470" />
<rect x="450.00" y="292.30" width="6.00" height="0.90" fill="#a4a470" />
<rect x="462.00" y="292.30" width="2.50" height="0.90" fill="#a4a470" />
<rect x="471.00" y="292.30" width="6.00" height="0.90" fill="#a4a470" />
<rect x="480.00" y="292.30" width="2.00" height="0.90" fill="#a4a470" />
<rect x="483.00" y="292.30" width="1.50" height="0.90" fill="#a4a470" />
<path d="M313.70,302.60 L313.70,302.40 L314.09,302.07 L314.47,301.41 L314.86,300.29 L315.24,298.74 L315.63,297.01 L316.01,295.63 L316.40,295.10 L316.79,295.63 L317.17,297.01 L317.56,298.74 L317.94,300.29 L318.33,301.41 L318.71,302.07 L319.10,302.40 L319.10,302.60 Z" fill="#4a4a0e"/>
<path d="M261.20,302.60 L261.20,302.49 L261.70,302.32 L262.20,301.97 L262.70,301.37 L263.20,300.54 L263.70,299.62 L264.20,298.88 L264.70,298.60 L265.20,298.88 L265.70,299.62 L266.20,300.54 L266.70,301.37 L267.20,301.97 L267.70,302.32 L268.20,302.49 L268.20,302.60 Z" fill="#4a4a0e"/>
<path d="M319.30,302.60 L319.30,302.55 L319.59,302.47 L319.87,302.31 L320.16,302.05 L320.44,301.67 L320.73,301.26 L321.01,300.93 L321.30,300.80 L321.59,300.93 L321.87,301.26 L322.16,301.67 L322.44,302.05 L322.73,302.31 L323.01,302.47 L323.30,302.55 L323.30,302.60 Z" fill="#4a4a0e"/>
<rect x="279.00" y="301.70" width="1.50" height="0.90" fill="#a4a470" />
<rect x="282.00" y="301.70" width="6.00" height="0.90" fill="#a4a470" />
<rect x="294.00" y="301.70" width="2.50" height="0.90" fill="#a4a470" />
<rect x="327.00" y="301.70" width="6.00" height="0.90" fill="#a4a470" />
<rect x="330.00" y="301.70" width="4.00" height="0.90" fill="#a4a470" />
<rect x="336.00" y="301.70" width="2.50" height="0.90" fill="#a4a470" />
<rect x="351.00" y="301.70" width="4.00" height="0.90" fill="#a4a470" />
<rect x="372.00" y="301.70" width="2.50" height="0.90" fill="#a4a470" />
<rect x="378.00" y="301.70" width="6.00" height="0.90" fill="#a4a470" />
<rect x="396.00" y="301.70" width="1.50" height="0.90" fill="#a4a470" />
<rect x="399.00" y="301.70" width="1.50" height="0.90" fill="#a4a470" />
<rect x="420.00" y="301.70" width="6.00" height="0.90" fill="#a4a470" />
<rect x="432.00" y="301.70" width="4.00" height="0.90" fill="#a4a470" />
<rect x="435.00" y="301.70" width="2.00" height="0.90" fill="#a4a470" />
<rect x="447.00" y="301.70" width="2.50" height="0.90" fill="#a4a470" />
<rect x="453.00" y="301.70" width="2.00" height="0.90" fill="#a4a470" />
<rect x="462.00" y="301.70" width="4.00" height="0.90" fill="#a4a470" />
<rect x="468.00" y="301.70" width="4.00" height="0.90" fill="#a4a470" />
<rect x="474.00" y="301.70" width="1.50" height="0.90" fill="#a4a470" />
<rect x="477.00" y="301.70" width="1.50" height="0.90" fill="#a4a470" />
<rect x="480.00" y="301.70" width="6.00" height="0.90" fill="#a4a470" />
<rect x="501.00" y="301.70" width="6.00" height="0.90" fill="#a4a470" />
<path d="M313.70,312.50 L313.70,312.28 L314.09,311.94 L314.47,311.23 L314.86,310.04 L315.24,308.38 L315.63,306.54 L316.01,305.07 L316.40,304.50 L316.79,305.07 L317.17,306.54 L317.56,308.38 L317.94,310.04 L318.33,311.23 L318.71,311.94 L319.10,312.28 L319.10,312.50 Z" fill="#4a4a0e"/>
<path d="M259.00,312.50 L259.00,312.39 L259.71,312.22 L260.43,311.87 L261.14,311.27 L261.86,310.44 L262.57,309.52 L263.29,308.78 L264.00,308.50 L264.71,308.78 L265.43,309.52 L266.14,310.44 L266.86,311.27 L267.57,311.87 L268.29,312.22 L269.00,312.39 L269.00,312.50 Z" fill="#4a4a0e"/>
<path d="M266.00,312.50 L266.00,312.45 L266.36,312.36 L266.71,312.18 L267.07,311.88 L267.43,311.47 L267.79,311.01 L268.14,310.64 L268.50,310.50 L268.86,310.64 L269.21,311.01 L269.57,311.47 L269.93,311.88 L270.29,312.18 L270.64,312.36 L271.00,312.45 L271.00,312.50 Z" fill="#4a4a0e"/>
<path d="M311.00,312.50 L311.00,312.47 L311.21,312.42 L311.43,312.31 L311.64,312.13 L311.86,311.88 L312.07,311.61 L312.29,311.39 L312.50,311.30 L312.71,311.39 L312.93,311.61 L313.14,311.88 L313.36,312.13 L313.57,312.31 L313.79,312.42 L314.00,312.47 L314.00,312.50 Z" fill="#4a4a0e"/>
<rect x="264.00" y="311.60" width="6.00" height="0.90" fill="#a4a470" />
<rect x="279.00" y="311.60" width="1.50" height="0.90" fill="#a4a470" />
<rect x="282.00" y="311.60" width="4.00" height="0.90" fill="#a4a470" />
<rect x="291.00" y="311.60" width="1.50" height="0.90" fill="#a4a470" />
<rect x="360.00" y="311.60" width="2.00" height="0.90" fill="#a4a470" />
<rect x="366.00" y="311.60" width="2.50" height="0.90" fill="#a4a470" />
<rect x="375.00" y="311.60" width="2.00" height="0.90" fill="#a4a470" />
<rect x="378.00" y="311.60" width="2.00" height="0.90" fill="#a4a470" />
<rect x="387.00" y="311.60" width="4.00" height="0.90" fill="#a4a470" />
<rect x="390.00" y="311.60" width="4.00" height="0.90" fill="#a4a470" />
<rect x="393.00" y="311.60" width="4.00" height="0.90" fill="#a4a470" />
<rect x="405.00" y="311.60" width="1.50" height="0.90" fill="#a4a470" />
<rect x="429.00" y="311.60" width="2.00" height="0.90" fill="#a4a470" />
<rect x="432.00" y="311.60" width="4.00" height="0.90" fill="#a4a470" />
<rect x="435.00" y="311.60" width="4.00" height="0.90" fill="#a4a470" />
<rect x="438.00" y="311.60" width="6.00" height="0.90" fill="#a4a470" />
<rect x="447.00" y="311.60" width="2.50" height="0.90" fill="#a4a470" />
<rect x="480.00" y="311.60" width="2.00" height="0.90" fill="#a4a470" />
<rect x="486.00" y="311.60" width="4.00" height="0.90" fill="#a4a470" />
<rect x="489.00" y="311.60" width="6.00" height="0.90" fill="#a4a470" />
<rect x="504.00" y="311.60" width="2.50" height="0.90" fill="#a4a470" />
<path d="M313.70,322.90 L313.70,322.68 L314.09,322.31 L314.47,321.58 L314.86,320.35 L315.24,318.62 L315.63,316.72 L316.01,315.19 L316.40,314.60 L316.79,315.19 L317.17,316.72 L317.56,318.62 L317.94,320.35 L318.33,321.58 L318.71,322.31 L319.10,322.68 L319.10,322.90 Z" fill="#4a4a0e"/>
<path d="M261.70,322.90 L261.70,322.88 L262.13,322.84 L262.56,322.77 L262.99,322.65 L263.41,322.49 L263.84,322.30 L264.27,322.16 L264.70,322.10 L265.13,322.16 L265.56,322.30 L265.99,322.49 L266.41,322.65 L266.84,322.77 L267.27,322.84 L267.70,322.88 L267.70,322.90 Z" fill="#4a4a0e"/>
<rect x="258.00" y="322.00" width="4.00" height="0.90" fill="#a4a470" />
<rect x="261.00" y="322.00" width="6.00" height="0.90" fill="#a4a470" />
<rect x="276.00" y="322.00" width="4.00" height="0.90" fill="#a4a470" />
<rect x="288.00" y="322.00" width="4.00" height="0.90" fill="#a4a470" />
<rect x="306.00" y="322.00" width="4.00" height="0.90" fill="#a4a470" />
<rect x="327.00" y="322.00" width="4.00" height="0.90" fill="#a4a470" />
<rect x="345.00" y="322.00" width="1.50" height="0.90" fill="#a4a470" />
<rect x="357.00" y="322.00" width="4.00" height="0.90" fill="#a4a470" />
<rect x="366.00" y="322.00" width="4.00" height="0.90" fill="#a4a470" />
<rect x="378.00" y="322.00" width="1.50" height="0.90" fill="#a4a470" />
<rect x="393.00" y="322.00" width="2.00" height="0.90" fill="#a4a470" />
<rect x="399.00" y="322.00" width="1.50" height="0.90" fill="#a4a470" />
<rect x="402.00" y="322.00" width="2.00" height="0.90" fill="#a4a470" />
<rect x="417.00" y="322.00" width="4.00" height="0.90" fill="#a4a470" />
<rect x="444.00" y="322.00" width="2.00" height="0.90" fill="#a4a470" />
<rect x="486.00" y="322.00" width="1.50" height="0.90" fill="#a4a470" />
<rect x="498.00" y="322.00" width="2.50" height="0.90" fill="#a4a470" />
<rect x="501.00" y="322.00" width="6.00" height="0.90" fill="#a4a470" />
<rect x="510.00" y="322.00" width="1.50" height="0.90" fill="#a4a470" />
<path d="M313.70,332.50 L313.70,332.28 L314.09,331.91 L314.47,331.18 L314.86,329.95 L315.24,328.22 L315.63,326.32 L316.01,324.79 L316.40,324.20 L316.79,324.79 L317.17,326.32 L317.56,328.22 L317.94,329.95 L318.33,331.18 L318.71,331.91 L319.10,332.28 L319.10,332.50 Z" fill="#4a4a0e"/>
<path d="M260.20,332.50 L260.20,332.45 L260.84,332.36 L261.49,332.18 L262.13,331.88 L262.77,331.47 L263.41,331.01 L264.06,330.64 L264.70,330.50 L265.34,330.64 L265.99,331.01 L266.63,331.47 L267.27,331.88 L267.91,332.18 L268.56,332.36 L269.20,332.45 L269.20,332.50 Z" fill="#4a4a0e"/>
<rect x="258.00" y="331.60" width="2.50" height="0.90" fill="#a4a470" />
<rect x="267.00" y="331.60" width="1.50" height="0.90" fill="#a4a470" />
<rect x="285.00" y="331.60" width="2.00" height="0.90" fill="#a4a470" />
<rect x="294.00" y="331.60" width="1.50" height="0.90" fill="#a4a470" />
<rect x="297.00" y="331.60" width="2.50" height="0.90" fill="#a4a470" />
<rect x="300.00" y="331.60" width="2.50" height="0.90" fill="#a4a470" />
<rect x="303.00" y="331.60" width="4.00" height="0.90" fill="#a4a470" />
<rect x="336.00" y="331.60" width="2.00" height="0.90" fill="#a4a470" />
<rect x="354.00" y="331.60" width="6.00" height="0.90" fill="#a4a470" />
<rect x="390.00" y="331.60" width="1.50" height="0.90" fill="#a4a470" />
<rect x="396.00" y="331.60" width="2.00" height="0.90" fill="#a4a470" />
<rect x="402.00" y="331.60" width="6.00" height="0.90" fill="#a4a470" />
<rect x="435.00" y="331.60" width="2.50" height="0.90" fill="#a4a470" />
<rect x="438.00" y="331.60" width="2.00" height="0.90" fill="#a4a470" />
<rect x="441.00" y="331.60" width="6.00" height="0.90" fill="#a4a470" />
<rect x="444.00" y="331.60" width="1.50" height="0.90" fill="#a4a470" />
<rect x="450.00" y="331.60" width="6.00" height="0.90" fill="#a4a470" />
<rect x="462.00" y="331.60" width="2.50" height="0.90" fill="#a4a470" />
<rect x="474.00" y="331.60" width="1.50" height="0.90" fill="#a4a470" />
<rect x="492.00" y="331.60" width="2.50" height="0.90" fill="#a4a470" />
<rect x="501.00" y="331.60" width="6.00" height="0.90" fill="#a4a470" />
<path d="M305.00,342.70 L305.00,342.62 L305.36,342.49 L305.71,342.22 L306.07,341.78 L306.43,341.15 L306.79,340.47 L307.14,339.91 L307.50,339.70 L307.86,339.91 L308.21,340.47 L308.57,341.15 L308.93,341.78 L309.29,342.22 L309.64,342.49 L310.00,342.62 L310.00,342.70 Z" fill="#1c2fc4"/>
<path d="M308.10,342.70 L308.10,342.59 L308.44,342.40 L308.79,342.03 L309.13,341.41 L309.47,340.54 L309.81,339.57 L310.16,338.80 L310.50,338.50 L310.84,338.80 L311.19,339.57 L311.53,340.54 L311.87,341.41 L312.21,342.03 L312.56,342.40 L312.90,342.59 L312.90,342.70 Z" fill="#1c2fc4"/>
<path d="M311.10,342.70 L311.10,342.56 L311.41,342.33 L311.73,341.88 L312.04,341.10 L312.36,340.02 L312.67,338.83 L312.99,337.87 L313.30,337.50 L313.61,337.87 L313.93,338.83 L314.24,340.02 L314.56,341.10 L314.87,341.88 L315.19,342.33 L315.50,342.56 L315.50,342.70 Z" fill="#1c2fc4"/>
<path d="M316.30,342.70 L316.30,342.47 L316.56,342.09 L316.81,341.34 L317.07,340.05 L317.33,338.27 L317.59,336.30 L317.84,334.71 L318.10,334.10 L318.36,334.71 L318.61,336.30 L318.87,338.27 L319.13,340.05 L319.39,341.34 L319.64,342.09 L319.90,342.47 L319.90,342.70 Z" fill="#1c2fc4"/>
<path d="M319.20,342.70 L319.20,342.59 L319.49,342.40 L319.77,342.03 L320.06,341.41 L320.34,340.54 L320.63,339.57 L320.91,338.80 L321.20,338.50 L321.49,338.80 L321.77,339.57 L322.06,340.54 L322.34,341.41 L322.63,342.03 L322.91,342.40 L323.20,342.59 L323.20,342.70 Z" fill="#1c2fc4"/>
<path d="M322.50,342.70 L322.50,342.66 L322.71,342.59 L322.93,342.46 L323.14,342.24 L323.36,341.93 L323.57,341.58 L323.79,341.31 L324.00,341.20 L324.21,341.31 L324.43,341.58 L324.64,341.93 L324.86,342.24 L325.07,342.46 L325.29,342.59 L325.50,342.66 L325.50,342.70 Z" fill="#1c2fc4"/>
<path d="M262.50,342.70 L262.50,342.63 L262.86,342.52 L263.21,342.29 L263.57,341.90 L263.93,341.36 L264.29,340.76 L264.64,340.28 L265.00,340.10 L265.36,340.28 L265.71,340.76 L266.07,341.36 L266.43,341.90 L266.79,342.29 L267.14,342.52 L267.50,342.63 L267.50,342.70 Z" fill="#1c2fc4"/>
<path d="M266.00,342.70 L266.00,342.66 L266.29,342.59 L266.57,342.46 L266.86,342.24 L267.14,341.93 L267.43,341.58 L267.71,341.31 L268.00,341.20 L268.29,341.31 L268.57,341.58 L268.86,341.93 L269.14,342.24 L269.43,342.46 L269.71,342.59 L270.00,342.66 L270.00,342.70 Z" fill="#1c2fc4"/>
<path d="M257.50,342.70 L257.50,342.67 L257.71,342.62 L257.93,342.51 L258.14,342.33 L258.36,342.08 L258.57,341.81 L258.79,341.59 L259.00,341.50 L259.21,341.59 L259.43,341.81 L259.64,342.08 L259.86,342.33 L260.07,342.51 L260.29,342.62 L260.50,342.67 L260.50,342.70 Z" fill="#1c2fc4"/>
<path d="M272.00,342.70 L272.00,342.67 L272.29,342.62 L272.57,342.51 L272.86,342.33 L273.14,342.08 L273.43,341.81 L273.71,341.59 L274.00,341.50 L274.29,341.59 L274.57,341.81 L274.86,342.08 L275.14,342.33 L275.43,342.51 L275.71,342.62 L276.00,342.67 L276.00,342.70 Z" fill="#1c2fc4"/>
<path d="M280.00,342.70 L280.00,342.67 L280.29,342.63 L280.57,342.54 L280.86,342.39 L281.14,342.18 L281.43,341.96 L281.71,341.77 L282.00,341.70 L282.29,341.77 L282.57,341.96 L282.86,342.18 L283.14,342.39 L283.43,342.54 L283.71,342.63 L284.00,342.67 L284.00,342.70 Z" fill="#1c2fc4"/>
<path d="M294.00,342.70 L294.00,342.67 L294.29,342.63 L294.57,342.54 L294.86,342.39 L295.14,342.18 L295.43,341.96 L295.71,341.77 L296.00,341.70 L296.29,341.77 L296.57,341.96 L296.86,342.18 L297.14,342.39 L297.43,342.54 L297.71,342.63 L298.00,342.67 L298.00,342.70 Z" fill="#1c2fc4"/>
<path d="M331.00,342.70 L331.00,342.67 L331.29,342.62 L331.57,342.51 L331.86,342.33 L332.14,342.08 L332.43,341.81 L332.71,341.59 L333.00,341.50 L333.29,341.59 L333.57,341.81 L333.86,342.08 L334.14,342.33 L334.43,342.51 L334.71,342.62 L335.00,342.67 L335.00,342.70 Z" fill="#1c2fc4"/>
<path d="M336.50,342.70 L336.50,342.67 L336.71,342.63 L336.93,342.54 L337.14,342.39 L337.36,342.18 L337.57,341.96 L337.79,341.77 L338.00,341.70 L338.21,341.77 L338.43,341.96 L338.64,342.18 L338.86,342.39 L339.07,342.54 L339.29,342.63 L339.50,342.67 L339.50,342.70 Z" fill="#1c2fc4"/>
<path d="M356.50,342.70 L356.50,342.67 L356.71,342.63 L356.93,342.54 L357.14,342.39 L357.36,342.18 L357.57,341.96 L357.79,341.77 L358.00,341.70 L358.21,341.77 L358.43,341.96 L358.64,342.18 L358.86,342.39 L359.07,342.54 L359.29,342.63 L359.50,342.67 L359.50,342.70 Z" fill="#1c2fc4"/>
<rect x="255.00" y="341.90" width="5.00" height="0.80" fill="#1c2fc4" />
<rect x="262.00" y="341.90" width="14.00" height="0.80" fill="#1c2fc4" />
<rect x="278.00" y="341.90" width="8.00" height="0.80" fill="#1c2fc4" />
<rect x="290.00" y="341.90" width="5.00" height="0.80" fill="#1c2fc4" />
<rect x="300.00" y="341.90" width="5.00" height="0.80" fill="#1c2fc4" />
<rect x="330.00" y="341.90" width="4.00" height="0.80" fill="#1c2fc4" />
<rect x="345.00" y="341.90" width="3.00" height="0.80" fill="#1c2fc4" />
<rect x="355.00" y="341.90" width="6.00" height="0.80" fill="#1c2fc4" />
<rect x="365.00" y="341.90" width="2.00" height="0.80" fill="#1c2fc4" />
<rect x="372.00" y="341.90" width="6.00" height="0.80" fill="#1c2fc4" />
<rect x="380.00" y="341.90" width="3.00" height="0.80" fill="#1c2fc4" />
<rect x="389.00" y="341.90" width="4.00" height="0.80" fill="#1c2fc4" />
<rect x="397.00" y="341.90" width="5.00" height="0.80" fill="#1c2fc4" />
<rect x="406.00" y="341.90" width="3.00" height="0.80" fill="#1c2fc4" />
<rect x="413.00" y="341.90" width="5.00" height="0.80" fill="#1c2fc4" />
<rect x="421.00" y="341.90" width="5.00" height="0.80" fill="#1c2fc4" />
<rect x="430.00" y="341.90" width="3.00" height="0.80" fill="#1c2fc4" />
<rect x="441.00" y="341.90" width="4.00" height="0.80" fill="#1c2fc4" />
<rect x="447.00" y="341.90" width="4.00" height="0.80" fill="#1c2fc4" />
<rect x="452.00" y="341.90" width="8.00" height="0.80" fill="#1c2fc4" />
<rect x="464.00" y="341.90" width="4.00" height="0.80" fill="#1c2fc4" />
<rect x="474.00" y="341.90" width="6.00" height="0.80" fill="#1c2fc4" />
<rect x="486.00" y="341.90" width="4.00" height="0.80" fill="#1c2fc4" />
<rect x="496.00" y="341.90" width="14.00" height="0.80" fill="#1c2fc4" />
<rect x="510.00" y="341.90" width="5.00" height="0.80" fill="#1c2fc4" />
<line x1="255.00" y1="342.90" x2="515.00" y2="342.90" stroke="#b8c4e4" stroke-width="0.5" />
<line x1="254.80" y1="345.80" x2="515.00" y2="345.80" stroke="#111" stroke-width="1.5" />
<line x1="254.80" y1="343.90" x2="515.00" y2="343.90" stroke="#aaa" stroke-width="0.5" />
<line x1="263.00" y1="349.70" x2="515.00" y2="349.70" stroke="#3a5cf0" stroke-width="0.9" stroke-dasharray="1 0.8"/>
<rect x="392.00" y="347.9" width="3.4" height="3.6" rx="1.2" fill="#2a4ee8"/>
<rect x="405.00" y="347.9" width="3.4" height="3.6" rx="1.2" fill="#2a4ee8"/>
<rect x="447.40" y="347.9" width="1.6" height="3.6" rx="1.2" fill="#2a4ee8"/>
<rect x="497.80" y="348.60" width="15.50" height="2.30" fill="#2a4ee8" />
<text x="301.60" y="360.00" font-size="8.0" fill="#222" stroke="#222" stroke-width="0.1" font-weight="bold" font-style="italic" textLength="27.80" lengthAdjust="spacingAndGlyphs" >STEAP3</text>
<path d="M374.6,342.6 h4 v3 h-4 z M379.6,342.6 h4 v3 h-4 z M375.6,346.6 h4 v3 h-4 z" fill="none" stroke="#555" stroke-width="0.45"/>
<rect x="37.70" y="412.70" width="64.60" height="16.10" fill="#d8e0df" stroke="#303030" stroke-width="1.2"/>
<rect x="38.80" y="413.80" width="62.40" height="13.90" fill="none" stroke="#f2f6f6" stroke-width="0.6"/>
<clipPath id="cp37_412"><rect x="38.40" y="413.40" width="63.20" height="14.70"/></clipPath>
<g clip-path="url(#cp37_412)">
<ellipse cx="49.25" cy="421.50" rx="10.75" ry="5.50" fill="#8c9696" opacity="0.30" filter="url(#bl2)"/>
<rect x="39.60" y="417.60" width="19.30" height="7.80" rx="5.07" ry="3.90" fill="#000" opacity="1.00" filter="url(#bl)"/>
<ellipse cx="70.25" cy="421.60" rx="10.25" ry="5.60" fill="#8c9696" opacity="0.30" filter="url(#bl2)"/>
<rect x="61.10" y="417.60" width="18.30" height="8.00" rx="5.20" ry="4.00" fill="#000" opacity="1.00" filter="url(#bl)"/>
<ellipse cx="91.50" cy="421.95" rx="10.00" ry="4.65" fill="#8c9696" opacity="0.30" filter="url(#bl2)"/>
<rect x="82.60" y="418.90" width="17.80" height="6.10" rx="3.97" ry="3.05" fill="#000" opacity="1.00" filter="url(#bl)"/>
</g>
<rect x="37.70" y="432.40" width="64.60" height="18.40" fill="#d8e0df" stroke="#303030" stroke-width="1.2"/>
<rect x="38.80" y="433.50" width="62.40" height="16.20" fill="none" stroke="#f2f6f6" stroke-width="0.6"/>
<clipPath id="cp37_432"><rect x="38.40" y="433.10" width="63.20" height="17.00"/></clipPath>
<g clip-path="url(#cp37_432)">
<path d="M44,437 Q46,434.5 52,435.3 Q60,436 60.3,442 Q60.3,448.8 52,449 Q44,449.2 43.8,443 Z" fill="#000" opacity="1.00" filter="url(#bl)"/>
</g>
<rect x="37.70" y="453.50" width="64.60" height="16.40" fill="#d8e0df" stroke="#303030" stroke-width="1.2"/>
<rect x="38.80" y="454.60" width="62.40" height="14.20" fill="none" stroke="#f2f6f6" stroke-width="0.6"/>
<clipPath id="cp37_453"><rect x="38.40" y="454.20" width="63.20" height="15.00"/></clipPath>
<g clip-path="url(#cp37_453)">
<path d="M44.2,460 Q46,455.8 52,456 Q58,456.3 60,459 L70,459.5 Q74,458.6 76.6,459.6 Q76.4,461.8 72,462.2 L62,464.5 Q58,469.5 52,469.6 Q44.5,469 44.2,463 Z" fill="#000" opacity="1.00" filter="url(#bl)"/>
<ellipse cx="92.20" cy="459.10" rx="7.40" ry="3.60" fill="#8c9696" opacity="0.30" filter="url(#bl2)"/>
<rect x="85.90" y="457.10" width="12.60" height="4.00" rx="2.60" ry="2.00" fill="#000" opacity="1.00" filter="url(#bl)"/>
</g>
<rect x="37.70" y="472.40" width="64.60" height="18.00" fill="#d8e0df" stroke="#303030" stroke-width="1.2"/>
<rect x="38.80" y="473.50" width="62.40" height="15.80" fill="none" stroke="#f2f6f6" stroke-width="0.6"/>
<clipPath id="cp37_472"><rect x="38.40" y="473.10" width="63.20" height="16.60"/></clipPath>
<g clip-path="url(#cp37_472)">
<ellipse cx="48.50" cy="483.05" rx="11.50" ry="7.75" fill="#8c9696" opacity="0.30" filter="url(#bl2)"/>
<rect x="38.10" y="476.90" width="20.80" height="12.30" rx="8.00" ry="6.15" fill="#000" opacity="1.00" filter="url(#bl)"/>
<ellipse cx="69.60" cy="482.85" rx="11.10" ry="7.35" fill="#8c9696" opacity="0.30" filter="url(#bl2)"/>
<rect x="59.60" y="477.10" width="20.00" height="11.50" rx="7.47" ry="5.75" fill="#000" opacity="1.00" filter="url(#bl)"/>
<ellipse cx="90.00" cy="482.85" rx="10.70" ry="7.35" fill="#8c9696" opacity="0.30" filter="url(#bl2)"/>
<rect x="80.40" y="477.10" width="19.20" height="11.50" rx="7.47" ry="5.75" fill="#000" opacity="1.00" filter="url(#bl)"/>
<ellipse cx="102.50" cy="483.00" rx="3.00" ry="6.00" fill="#8c9696" opacity="0.30" filter="url(#bl2)"/>
<rect x="100.60" y="478.60" width="3.80" height="8.80" rx="1.90" ry="4.40" fill="#000" opacity="1.00" filter="url(#bl)"/>
</g>
<rect x="106.50" y="412.70" width="65.00" height="16.90" fill="#d8e0df" stroke="#303030" stroke-width="1.2"/>
<rect x="107.60" y="413.80" width="62.80" height="14.70" fill="none" stroke="#f2f6f6" stroke-width="0.6"/>
<clipPath id="cp106_412"><rect x="107.20" y="413.40" width="63.60" height="15.50"/></clipPath>
<g clip-path="url(#cp106_412)">
<ellipse cx="116.95" cy="421.50" rx="9.95" ry="7.00" fill="#8c9696" opacity="0.30" filter="url(#bl2)"/>
<rect x="108.10" y="416.10" width="17.70" height="10.80" rx="7.02" ry="5.40" fill="#000" opacity="1.00" filter="url(#bl)"/>
<ellipse cx="137.60" cy="421.80" rx="9.90" ry="6.00" fill="#8c9696" opacity="0.30" filter="url(#bl2)"/>
<rect x="128.80" y="417.40" width="17.60" height="8.80" rx="5.72" ry="4.40" fill="#000" opacity="1.00" filter="url(#bl)"/>
<ellipse cx="160.00" cy="419.60" rx="10.00" ry="6.60" fill="#8c9696" opacity="0.30" filter="url(#bl2)"/>
<rect x="151.10" y="414.60" width="17.80" height="10.00" rx="6.50" ry="5.00" fill="#000" opacity="1.00" filter="url(#bl)"/>
</g>
<rect x="106.50" y="432.40" width="65.00" height="18.40" fill="#d8e0df" stroke="#303030" stroke-width="1.2"/>
<rect x="107.60" y="433.50" width="62.80" height="16.20" fill="none" stroke="#f2f6f6" stroke-width="0.6"/>
<clipPath id="cp106_432"><rect x="107.20" y="433.10" width="63.60" height="17.00"/></clipPath>
<g clip-path="url(#cp106_432)">
<ellipse cx="114.85" cy="441.65" rx="8.95" ry="7.15" fill="#8c9696" opacity="0.30" filter="url(#bl2)"/>
<rect x="107.00" y="436.10" width="15.70" height="11.10" rx="7.22" ry="5.55" fill="#000" opacity="1.00" filter="url(#bl)"/>
<ellipse cx="135.75" cy="441.65" rx="8.05" ry="7.15" fill="#8c9696" opacity="0.30" filter="url(#bl2)"/>
<rect x="128.80" y="436.10" width="13.90" height="11.10" rx="6.95" ry="5.55" fill="#000" opacity="1.00" filter="url(#bl)"/>
<ellipse cx="158.85" cy="441.00" rx="10.35" ry="8.80" fill="#8c9696" opacity="0.30" filter="url(#bl2)"/>
<rect x="149.60" y="433.80" width="18.50" height="14.40" rx="9.25" ry="7.20" fill="#000" opacity="1.00" filter="url(#bl)"/>
</g>
<rect x="106.50" y="453.50" width="65.00" height="16.90" fill="#d8e0df" stroke="#303030" stroke-width="1.2"/>
<rect x="107.60" y="454.60" width="62.80" height="14.70" fill="none" stroke="#f2f6f6" stroke-width="0.6"/>
<clipPath id="cp106_453"><rect x="107.20" y="454.20" width="63.60" height="15.50"/></clipPath>
<g clip-path="url(#cp106_453)">
<ellipse cx="116.15" cy="463.05" rx="8.15" ry="5.45" fill="#8c9696" opacity="0.30" filter="url(#bl2)"/>
<rect x="109.10" y="459.20" width="14.10" height="7.70" rx="5.00" ry="3.85" fill="#000" opacity="1.00" filter="url(#bl)"/>
<ellipse cx="138.05" cy="462.15" rx="8.05" ry="5.35" fill="#8c9696" opacity="0.30" filter="url(#bl2)"/>
<rect x="131.10" y="458.40" width="13.90" height="7.50" rx="4.87" ry="3.75" fill="#000" opacity="1.00" filter="url(#bl)"/>
<ellipse cx="160.10" cy="462.15" rx="8.60" ry="5.35" fill="#8c9696" opacity="0.30" filter="url(#bl2)"/>
<rect x="152.60" y="458.40" width="15.00" height="7.50" rx="4.87" ry="3.75" fill="#000" opacity="1.00" filter="url(#bl)"/>
</g>
<rect x="106.50" y="472.40" width="65.00" height="18.00" fill="#d8e0df" stroke="#303030" stroke-width="1.2"/>
<rect x="107.60" y="473.50" width="62.80" height="15.80" fill="none" stroke="#f2f6f6" stroke-width="0.6"/>
<clipPath id="cp106_472"><rect x="107.20" y="473.10" width="63.60" height="16.60"/></clipPath>
<g clip-path="url(#cp106_472)">
<ellipse cx="116.95" cy="481.55" rx="10.75" ry="7.75" fill="#8c9696" opacity="0.30" filter="url(#bl2)"/>
<rect x="107.30" y="475.40" width="19.30" height="12.30" rx="8.00" ry="6.15" fill="#000" opacity="1.00" filter="url(#bl)"/>
<ellipse cx="137.75" cy="481.50" rx="10.75" ry="7.50" fill="#8c9696" opacity="0.30" filter="url(#bl2)"/>
<rect x="128.10" y="475.60" width="19.30" height="11.80" rx="7.67" ry="5.90" fill="#000" opacity="1.00" filter="url(#bl)"/>
<ellipse cx="158.45" cy="481.40" rx="10.75" ry="7.60" fill="#8c9696" opacity="0.30" filter="url(#bl2)"/>
<rect x="148.80" y="475.40" width="19.30" height="12.00" rx="7.80" ry="6.00" fill="#000" opacity="1.00" filter="url(#bl)"/>
</g>
<text x="15.60" y="423.90" font-size="8.8" fill="#2a2a2a" stroke="#2a2a2a" stroke-width="0.1" textLength="19.70" lengthAdjust="spacingAndGlyphs" >TFRC</text>
<text x="16.60" y="444.10" font-size="8.8" fill="#2a2a2a" stroke="#2a2a2a" stroke-width="0.1" textLength="18.70" lengthAdjust="spacingAndGlyphs" >FTH1</text>
<text x="21.60" y="464.80" font-size="8.8" fill="#2a2a2a" stroke="#2a2a2a" stroke-width="0.1" textLength="13.70" lengthAdjust="spacingAndGlyphs" >FTL</text>
<text x="11.80" y="484.40" font-size="8.8" fill="#2a2a2a" stroke="#2a2a2a" stroke-width="0.1" textLength="23.50" lengthAdjust="spacingAndGlyphs" >ACTIN</text>
<text x="56.80" y="501.50" font-size="9.02" fill="#2a2a2a" stroke="#2a2a2a" stroke-width="0.12" textLength="34.30" lengthAdjust="spacingAndGlyphs" >GM12878</text>
<text x="126.80" y="501.50" font-size="9.02" fill="#2a2a2a" stroke="#2a2a2a" stroke-width="0.12" textLength="26.30" lengthAdjust="spacingAndGlyphs" >P3HR-1</text>
<text x="51.50" y="409.60" font-size="8.8" fill="#222" stroke="#222" stroke-width="0.1" textLength="26.90" lengthAdjust="spacingAndGlyphs" transform="rotate(-90 51.50 409.60)" >Control</text>
<text x="119.20" y="409.60" font-size="8.8" fill="#222" stroke="#222" stroke-width="0.1" textLength="26.90" lengthAdjust="spacingAndGlyphs" transform="rotate(-90 119.20 409.60)" >Control</text>
<text x="66.60" y="390.60" font-size="8.14" fill="#222" stroke="#222" stroke-width="0.1" textLength="28.20" lengthAdjust="spacingAndGlyphs" >STEAP3</text>
<text x="133.50" y="390.50" font-size="8.14" fill="#222" stroke="#222" stroke-width="0.1" textLength="28.00" lengthAdjust="spacingAndGlyphs" >STEAP3</text>
<line x1="63.00" y1="395.00" x2="99.00" y2="395.00" stroke="#222" stroke-width="1.3" />
<line x1="129.50" y1="394.80" x2="164.60" y2="394.80" stroke="#222" stroke-width="1.3" />
<text x="65.60" y="406.60" font-size="8.14" fill="#222" stroke="#222" stroke-width="0.1" textLength="8.60" lengthAdjust="spacingAndGlyphs" >#1</text>
<text x="87.90" y="406.60" font-size="8.14" fill="#222" stroke="#222" stroke-width="0.1" textLength="8.80" lengthAdjust="spacingAndGlyphs" >#2</text>
<text x="131.50" y="406.50" font-size="8.14" fill="#222" stroke="#222" stroke-width="0.1" textLength="8.20" lengthAdjust="spacingAndGlyphs" >#1</text>
<text x="154.60" y="406.50" font-size="8.14" fill="#222" stroke="#222" stroke-width="0.1" textLength="8.50" lengthAdjust="spacingAndGlyphs" >#2</text>
<rect x="38.70" y="578.60" width="86.50" height="19.10" fill="#d8e0df" stroke="#303030" stroke-width="1.2"/>
<rect x="39.80" y="579.70" width="84.30" height="16.90" fill="none" stroke="#f2f6f6" stroke-width="0.6"/>
<clipPath id="cp38_578"><rect x="39.40" y="579.30" width="85.10" height="17.70"/></clipPath>
<g clip-path="url(#cp38_578)">
<ellipse cx="50.15" cy="587.40" rx="11.25" ry="6.40" fill="#8c9696" opacity="0.30" filter="url(#bl2)"/>
<rect x="39.70" y="582.30" width="20.90" height="10.20" rx="3.57" ry="4.08" fill="#000" opacity="1.00" filter="url(#bl)"/>
<ellipse cx="72.00" cy="589.15" rx="10.60" ry="6.45" fill="#8c9696" opacity="0.30" filter="url(#bl2)"/>
<rect x="62.20" y="584.00" width="19.60" height="10.30" rx="3.60" ry="4.12" fill="#000" opacity="1.00" filter="url(#bl)"/>
<ellipse cx="94.25" cy="590.75" rx="10.15" ry="5.75" fill="#8c9696" opacity="0.30" filter="url(#bl2)"/>
<rect x="84.90" y="586.30" width="18.70" height="8.90" rx="3.11" ry="3.56" fill="#000" opacity="1.00" filter="url(#bl)"/>
<ellipse cx="115.20" cy="590.50" rx="9.90" ry="6.00" fill="#8c9696" opacity="0.30" filter="url(#bl2)"/>
<rect x="106.10" y="585.80" width="18.20" height="9.40" rx="3.29" ry="3.76" fill="#000" opacity="1.00" filter="url(#bl)"/>
<rect x="85.30" y="578.80" width="17.40" height="9.90" rx="3.46" ry="3.96" fill="#000" opacity="0.25" filter="url(#bl)"/>
<rect x="107.30" y="578.80" width="16.40" height="9.90" rx="3.46" ry="3.96" fill="#000" opacity="0.18" filter="url(#bl)"/>
</g>
<rect x="38.70" y="600.00" width="86.50" height="18.80" fill="#d8e0df" stroke="#303030" stroke-width="1.2"/>
<rect x="39.80" y="601.10" width="84.30" height="16.60" fill="none" stroke="#f2f6f6" stroke-width="0.6"/>
<clipPath id="cp38_600"><rect x="39.40" y="600.70" width="85.10" height="17.40"/></clipPath>
<g clip-path="url(#cp38_600)">
<ellipse cx="49.70" cy="607.30" rx="10.80" ry="6.00" fill="#8c9696" opacity="0.30" filter="url(#bl2)"/>
<rect x="39.70" y="602.60" width="20.00" height="9.40" rx="3.29" ry="3.76" fill="#000" opacity="1.00" filter="url(#bl)"/>
<ellipse cx="71.80" cy="609.15" rx="10.80" ry="6.45" fill="#8c9696" opacity="0.30" filter="url(#bl2)"/>
<rect x="61.80" y="604.00" width="20.00" height="10.30" rx="3.60" ry="4.12" fill="#000" opacity="1.00" filter="url(#bl)"/>
<ellipse cx="93.55" cy="609.00" rx="10.35" ry="6.00" fill="#8c9696" opacity="0.30" filter="url(#bl2)"/>
<rect x="84.00" y="604.30" width="19.10" height="9.40" rx="3.29" ry="3.76" fill="#000" opacity="1.00" filter="url(#bl)"/>
<ellipse cx="114.90" cy="609.00" rx="9.60" ry="6.00" fill="#8c9696" opacity="0.30" filter="url(#bl2)"/>
<rect x="106.10" y="604.30" width="17.60" height="9.40" rx="3.29" ry="3.76" fill="#000" opacity="1.00" filter="url(#bl)"/>
</g>
<rect x="38.70" y="621.20" width="86.50" height="18.20" fill="#d8e0df" stroke="#303030" stroke-width="1.2"/>
<rect x="39.80" y="622.30" width="84.30" height="16.00" fill="none" stroke="#f2f6f6" stroke-width="0.6"/>
<clipPath id="cp38_621"><rect x="39.40" y="621.90" width="85.10" height="16.80"/></clipPath>
<g clip-path="url(#cp38_621)">
<ellipse cx="50.00" cy="630.55" rx="10.30" ry="6.05" fill="#8c9696" opacity="0.30" filter="url(#bl2)"/>
<rect x="40.50" y="625.80" width="19.00" height="9.50" rx="3.33" ry="3.80" fill="#000" opacity="1.00" filter="url(#bl)"/>
<ellipse cx="71.35" cy="631.10" rx="10.55" ry="4.60" fill="#8c9696" opacity="0.30" filter="url(#bl2)"/>
<rect x="61.60" y="627.80" width="19.50" height="6.60" rx="2.31" ry="2.64" fill="#000" opacity="1.00" filter="url(#bl)"/>
<ellipse cx="92.20" cy="630.50" rx="8.90" ry="5.50" fill="#8c9696" opacity="0.30" filter="url(#bl2)"/>
<rect x="84.10" y="626.30" width="16.20" height="8.40" rx="2.94" ry="3.36" fill="#000" opacity="1.00" filter="url(#bl)"/>
<ellipse cx="97.50" cy="633.10" rx="3.50" ry="5.10" fill="#8c9696" opacity="0.30" filter="url(#bl2)"/>
<rect x="94.80" y="629.30" width="5.40" height="7.60" rx="2.66" ry="3.04" fill="#000" opacity="1.00" filter="url(#bl)"/>
<ellipse cx="111.50" cy="630.35" rx="10.00" ry="5.35" fill="#8c9696" opacity="0.30" filter="url(#bl2)"/>
<rect x="102.30" y="626.30" width="18.40" height="8.10" rx="2.84" ry="3.24" fill="#000" opacity="1.00" filter="url(#bl)"/>
</g>
<rect x="38.70" y="642.30" width="86.50" height="18.30" fill="#d8e0df" stroke="#303030" stroke-width="1.2"/>
<rect x="39.80" y="643.40" width="84.30" height="16.10" fill="none" stroke="#f2f6f6" stroke-width="0.6"/>
<clipPath id="cp38_642"><rect x="39.40" y="643.00" width="85.10" height="16.90"/></clipPath>
<g clip-path="url(#cp38_642)">
<ellipse cx="51.00" cy="652.60" rx="11.30" ry="6.10" fill="#8c9696" opacity="0.30" filter="url(#bl2)"/>
<rect x="40.50" y="647.80" width="21.00" height="9.60" rx="3.36" ry="3.84" fill="#000" opacity="1.00" filter="url(#bl)"/>
<ellipse cx="69.35" cy="651.90" rx="9.15" ry="5.90" fill="#8c9696" opacity="0.30" filter="url(#bl2)"/>
<rect x="61.00" y="647.30" width="16.70" height="9.20" rx="3.22" ry="3.68" fill="#000" opacity="1.00" filter="url(#bl)"/>
<ellipse cx="91.75" cy="652.40" rx="10.95" ry="5.40" fill="#8c9696" opacity="0.30" filter="url(#bl2)"/>
<rect x="81.60" y="648.30" width="20.30" height="8.20" rx="2.87" ry="3.28" fill="#000" opacity="1.00" filter="url(#bl)"/>
<ellipse cx="113.20" cy="650.95" rx="8.70" ry="5.25" fill="#8c9696" opacity="0.30" filter="url(#bl2)"/>
<rect x="105.30" y="647.00" width="15.80" height="7.90" rx="2.77" ry="3.16" fill="#000" opacity="1.00" filter="url(#bl)"/>
</g>
<rect x="38.70" y="663.50" width="86.50" height="18.20" fill="#d8e0df" stroke="#303030" stroke-width="1.2"/>
<rect x="39.80" y="664.60" width="84.30" height="16.00" fill="none" stroke="#f2f6f6" stroke-width="0.6"/>
<clipPath id="cp38_663"><rect x="39.40" y="664.20" width="85.10" height="16.80"/></clipPath>
<g clip-path="url(#cp38_663)">
<ellipse cx="51.20" cy="670.95" rx="11.50" ry="5.65" fill="#8c9696" opacity="0.30" filter="url(#bl2)"/>
<rect x="40.50" y="666.60" width="21.40" height="8.70" rx="3.05" ry="3.48" fill="#000" opacity="1.00" filter="url(#bl)"/>
<ellipse cx="72.50" cy="672.10" rx="11.00" ry="5.30" fill="#8c9696" opacity="0.30" filter="url(#bl2)"/>
<rect x="62.30" y="668.10" width="20.40" height="8.00" rx="2.80" ry="3.20" fill="#000" opacity="1.00" filter="url(#bl)"/>
<ellipse cx="93.45" cy="672.50" rx="9.55" ry="5.50" fill="#8c9696" opacity="0.30" filter="url(#bl2)"/>
<rect x="84.70" y="668.30" width="17.50" height="8.40" rx="2.94" ry="3.36" fill="#000" opacity="1.00" filter="url(#bl)"/>
<ellipse cx="115.35" cy="673.25" rx="10.35" ry="5.25" fill="#8c9696" opacity="0.30" filter="url(#bl2)"/>
<rect x="105.80" y="669.30" width="19.10" height="7.90" rx="2.77" ry="3.16" fill="#000" opacity="1.00" filter="url(#bl)"/>
</g>
<rect x="130.80" y="578.60" width="86.10" height="19.10" fill="#d8e0df" stroke="#303030" stroke-width="1.2"/>
<rect x="131.90" y="579.70" width="83.90" height="16.90" fill="none" stroke="#f2f6f6" stroke-width="0.6"/>
<clipPath id="cp130_578"><rect x="131.50" y="579.30" width="84.70" height="17.70"/></clipPath>
<g clip-path="url(#cp130_578)">
<ellipse cx="140.95" cy="589.65" rx="8.25" ry="4.65" fill="#8c9696" opacity="0.28" filter="url(#bl2)"/>
<rect x="133.50" y="586.30" width="14.90" height="6.70" rx="2.34" ry="2.68" fill="#000" opacity="0.92" filter="url(#bl)"/>
<ellipse cx="161.70" cy="588.30" rx="9.40" ry="5.70" fill="#8c9696" opacity="0.30" filter="url(#bl2)"/>
<rect x="153.10" y="583.90" width="17.20" height="8.80" rx="3.08" ry="3.52" fill="#000" opacity="1.00" filter="url(#bl)"/>
<ellipse cx="182.20" cy="588.70" rx="9.70" ry="3.70" fill="#8c9696" opacity="0.14" filter="url(#bl2)"/>
<rect x="173.30" y="586.30" width="17.80" height="4.80" rx="1.68" ry="1.92" fill="#000" opacity="0.45" filter="url(#bl)"/>
<ellipse cx="205.15" cy="587.80" rx="10.15" ry="4.20" fill="#8c9696" opacity="0.15" filter="url(#bl2)"/>
<rect x="195.80" y="584.90" width="18.70" height="5.80" rx="2.03" ry="2.32" fill="#000" opacity="0.50" filter="url(#bl)"/>
<rect x="154.30" y="579.30" width="14.40" height="7.40" rx="2.59" ry="2.96" fill="#000" opacity="0.15" filter="url(#bl)"/>
</g>
<rect x="130.80" y="600.00" width="86.10" height="18.80" fill="#d8e0df" stroke="#303030" stroke-width="1.2"/>
<rect x="131.90" y="601.10" width="83.90" height="16.60" fill="none" stroke="#f2f6f6" stroke-width="0.6"/>
<clipPath id="cp130_600"><rect x="131.50" y="600.70" width="84.70" height="17.40"/></clipPath>
<g clip-path="url(#cp130_600)">
<ellipse cx="140.85" cy="611.05" rx="9.65" ry="5.35" fill="#8c9696" opacity="0.30" filter="url(#bl2)"/>
<rect x="132.00" y="607.00" width="17.70" height="8.10" rx="2.83" ry="3.24" fill="#000" opacity="1.00" filter="url(#bl)"/>
<ellipse cx="161.85" cy="610.00" rx="9.85" ry="5.00" fill="#8c9696" opacity="0.30" filter="url(#bl2)"/>
<rect x="152.80" y="606.30" width="18.10" height="7.40" rx="2.59" ry="2.96" fill="#000" opacity="1.00" filter="url(#bl)"/>
<ellipse cx="183.45" cy="609.15" rx="10.35" ry="5.35" fill="#8c9696" opacity="0.30" filter="url(#bl2)"/>
<rect x="173.90" y="605.10" width="19.10" height="8.10" rx="2.84" ry="3.24" fill="#000" opacity="1.00" filter="url(#bl)"/>
<ellipse cx="205.60" cy="606.75" rx="10.90" ry="5.85" fill="#8c9696" opacity="0.30" filter="url(#bl2)"/>
<rect x="195.50" y="602.20" width="20.20" height="9.10" rx="3.19" ry="3.64" fill="#000" opacity="1.00" filter="url(#bl)"/>
<rect x="197.30" y="609.30" width="17.40" height="8.40" rx="2.94" ry="3.36" fill="#000" opacity="0.12" filter="url(#bl)"/>
</g>
<rect x="130.80" y="621.20" width="86.10" height="18.20" fill="#d8e0df" stroke="#303030" stroke-width="1.2"/>
<rect x="131.90" y="622.30" width="83.90" height="16.00" fill="none" stroke="#f2f6f6" stroke-width="0.6"/>
<clipPath id="cp130_621"><rect x="131.50" y="621.90" width="84.70" height="16.80"/></clipPath>
<g clip-path="url(#cp130_621)">
<ellipse cx="141.65" cy="631.70" rx="9.45" ry="4.50" fill="#8c9696" opacity="0.30" filter="url(#bl2)"/>
<rect x="133.00" y="628.50" width="17.30" height="6.40" rx="2.24" ry="2.56" fill="#000" opacity="1.00" filter="url(#bl)"/>
<rect x="154.30" y="629.30" width="16.40" height="4.40" rx="1.54" ry="1.76" fill="#000" opacity="0.10" filter="url(#bl)"/>
<ellipse cx="186.05" cy="630.60" rx="9.65" ry="5.60" fill="#8c9696" opacity="0.30" filter="url(#bl2)"/>
<rect x="177.20" y="626.30" width="17.70" height="8.60" rx="3.01" ry="3.44" fill="#000" opacity="1.00" filter="url(#bl)"/>
<ellipse cx="206.35" cy="629.00" rx="10.15" ry="6.00" fill="#8c9696" opacity="0.30" filter="url(#bl2)"/>
<rect x="197.00" y="624.30" width="18.70" height="9.40" rx="3.29" ry="3.76" fill="#000" opacity="1.00" filter="url(#bl)"/>
</g>
<rect x="130.80" y="642.30" width="86.10" height="18.30" fill="#d8e0df" stroke="#303030" stroke-width="1.2"/>
<rect x="131.90" y="643.40" width="83.90" height="16.10" fill="none" stroke="#f2f6f6" stroke-width="0.6"/>
<clipPath id="cp130_642"><rect x="131.50" y="643.00" width="84.70" height="16.90"/></clipPath>
<g clip-path="url(#cp130_642)">
<ellipse cx="140.65" cy="652.70" rx="9.85" ry="4.70" fill="#8c9696" opacity="0.30" filter="url(#bl2)"/>
<rect x="131.60" y="649.30" width="18.10" height="6.80" rx="2.38" ry="2.72" fill="#000" opacity="1.00" filter="url(#bl)"/>
<ellipse cx="184.65" cy="652.35" rx="9.15" ry="7.35" fill="#8c9696" opacity="0.30" filter="url(#bl2)"/>
<rect x="176.30" y="646.30" width="16.70" height="12.10" rx="4.24" ry="4.84" fill="#000" opacity="1.00" filter="url(#bl)"/>
<ellipse cx="202.15" cy="650.80" rx="12.35" ry="7.00" fill="#8c9696" opacity="0.30" filter="url(#bl2)"/>
<rect x="190.60" y="645.10" width="23.10" height="11.40" rx="3.99" ry="4.56" fill="#000" opacity="1.00" filter="url(#bl)"/>
<rect x="154.30" y="647.30" width="16.40" height="7.40" rx="2.59" ry="2.96" fill="#000" opacity="0.03" filter="url(#bl)"/>
</g>
<rect x="130.80" y="663.50" width="86.10" height="18.20" fill="#d8e0df" stroke="#303030" stroke-width="1.2"/>
<rect x="131.90" y="664.60" width="83.90" height="16.00" fill="none" stroke="#f2f6f6" stroke-width="0.6"/>
<clipPath id="cp130_663"><rect x="131.50" y="664.20" width="84.70" height="16.80"/></clipPath>
<g clip-path="url(#cp130_663)">
<ellipse cx="141.15" cy="674.95" rx="9.95" ry="4.95" fill="#8c9696" opacity="0.30" filter="url(#bl2)"/>
<rect x="132.00" y="671.30" width="18.30" height="7.30" rx="2.55" ry="2.92" fill="#000" opacity="1.00" filter="url(#bl)"/>
<ellipse cx="161.85" cy="675.00" rx="9.85" ry="5.00" fill="#8c9696" opacity="0.30" filter="url(#bl2)"/>
<rect x="152.80" y="671.30" width="18.10" height="7.40" rx="2.59" ry="2.96" fill="#000" opacity="1.00" filter="url(#bl)"/>
<ellipse cx="182.65" cy="675.00" rx="10.15" ry="5.00" fill="#8c9696" opacity="0.30" filter="url(#bl2)"/>
<rect x="173.30" y="671.30" width="18.70" height="7.40" rx="2.59" ry="2.96" fill="#000" opacity="1.00" filter="url(#bl)"/>
<ellipse cx="204.00" cy="673.60" rx="11.30" ry="5.40" fill="#8c9696" opacity="0.30" filter="url(#bl2)"/>
<rect x="193.50" y="669.50" width="21.00" height="8.20" rx="2.87" ry="3.28" fill="#000" opacity="1.00" filter="url(#bl)"/>
</g>
<text x="16.00" y="592.80" font-size="8.8" fill="#222" stroke="#222" stroke-width="0.1" textLength="20.00" lengthAdjust="spacingAndGlyphs" >TFRC</text>
<text x="15.60" y="613.60" font-size="8.8" fill="#222" stroke="#222" stroke-width="0.1" textLength="20.40" lengthAdjust="spacingAndGlyphs" >DMT1</text>
<text x="16.40" y="634.40" font-size="8.8" fill="#222" stroke="#222" stroke-width="0.1" textLength="19.60" lengthAdjust="spacingAndGlyphs" >FTH1</text>
<text x="20.60" y="655.20" font-size="8.8" fill="#222" stroke="#222" stroke-width="0.1" textLength="15.40" lengthAdjust="spacingAndGlyphs" >FTL</text>
<text x="9.80" y="674.50" font-size="8.8" fill="#222" stroke="#222" stroke-width="0.1" textLength="26.20" lengthAdjust="spacingAndGlyphs" >GAPDH</text>
<text x="65.00" y="693.60" font-size="9.46" fill="#2a2a2a" stroke="#2a2a2a" stroke-width="0.12" textLength="35.30" lengthAdjust="spacingAndGlyphs" >GM12878</text>
<text x="159.80" y="693.60" font-size="9.46" fill="#2a2a2a" stroke="#2a2a2a" stroke-width="0.12" textLength="26.40" lengthAdjust="spacingAndGlyphs" >P3HR-1</text>
<text x="18.00" y="526.60" font-size="8.36" fill="#222" stroke="#222" stroke-width="0.1" textLength="21.30" lengthAdjust="spacingAndGlyphs" >cDNA</text>
<text x="53.80" y="527.00" font-size="8.36" fill="#222" stroke="#222" stroke-width="0.1" textLength="14.20" lengthAdjust="spacingAndGlyphs" >GFP</text>
<text x="89.50" y="526.80" font-size="8.36" fill="#222" stroke="#222" stroke-width="0.1" textLength="28.00" lengthAdjust="spacingAndGlyphs" >STEAP3</text>
<line x1="48.80" y1="529.90" x2="74.30" y2="529.90" stroke="#222" stroke-width="1.3" />
<line x1="90.50" y1="529.90" x2="116.30" y2="529.90" stroke="#222" stroke-width="1.3" />
<text x="143.50" y="527.10" font-size="8.36" fill="#222" stroke="#222" stroke-width="0.1" textLength="15.10" lengthAdjust="spacingAndGlyphs" >GFP</text>
<text x="179.30" y="527.10" font-size="8.36" fill="#222" stroke="#222" stroke-width="0.1" textLength="27.70" lengthAdjust="spacingAndGlyphs" >STEAP3</text>
<line x1="138.70" y1="530.10" x2="163.20" y2="530.10" stroke="#222" stroke-width="1.3" />
<line x1="181.00" y1="530.10" x2="205.80" y2="530.10" stroke="#222" stroke-width="1.3" />
<text x="16.30" y="563.00" font-size="8.36" fill="#222" stroke="#222" stroke-width="0.1" textLength="27.50" lengthAdjust="spacingAndGlyphs" >sgRNA:</text>
<text x="53.80" y="576.60" font-size="8.36" fill="#222" stroke="#222" stroke-width="0.1" textLength="26.80" lengthAdjust="spacingAndGlyphs" transform="rotate(-90 53.80 576.60)" >Control</text>
<text x="73.70" y="576.60" font-size="8.36" fill="#222" stroke="#222" stroke-width="0.1" textLength="38.60" lengthAdjust="spacingAndGlyphs" transform="rotate(-90 73.70 576.60)" >CYB561A3</text>
<text x="97.60" y="576.60" font-size="8.36" fill="#222" stroke="#222" stroke-width="0.1" textLength="26.80" lengthAdjust="spacingAndGlyphs" transform="rotate(-90 97.60 576.60)" >Control</text>
<text x="117.00" y="576.60" font-size="8.36" fill="#222" stroke="#222" stroke-width="0.1" textLength="38.60" lengthAdjust="spacingAndGlyphs" transform="rotate(-90 117.00 576.60)" >CYB561A3</text>
<text x="143.50" y="576.60" font-size="8.36" fill="#222" stroke="#222" stroke-width="0.1" textLength="26.80" lengthAdjust="spacingAndGlyphs" transform="rotate(-90 143.50 576.60)" >Control</text>
<text x="163.20" y="576.60" font-size="8.36" fill="#222" stroke="#222" stroke-width="0.1" textLength="38.60" lengthAdjust="spacingAndGlyphs" transform="rotate(-90 163.20 576.60)" >CYB561A3</text>
<text x="185.70" y="576.60" font-size="8.36" fill="#222" stroke="#222" stroke-width="0.1" textLength="26.80" lengthAdjust="spacingAndGlyphs" transform="rotate(-90 185.70 576.60)" >Control</text>
<text x="206.20" y="576.60" font-size="8.36" fill="#222" stroke="#222" stroke-width="0.1" textLength="38.60" lengthAdjust="spacingAndGlyphs" transform="rotate(-90 206.20 576.60)" >CYB561A3</text>
<line x1="202.40" y1="405.20" x2="202.40" y2="494.20" stroke="#111" stroke-width="1.3" />
<line x1="201.80" y1="493.60" x2="346.70" y2="493.60" stroke="#111" stroke-width="1.3" />
<line x1="199.80" y1="493.60" x2="202.40" y2="493.60" stroke="#111" stroke-width="1.2" />
<text x="197.20" y="496.55" font-size="7.6" fill="#111" stroke="#111" stroke-width="0.3" text-anchor="end" >0</text>
<line x1="199.80" y1="476.08" x2="202.40" y2="476.08" stroke="#111" stroke-width="1.2" />
<text x="197.20" y="479.03" font-size="7.6" fill="#111" stroke="#111" stroke-width="0.3" text-anchor="end" textLength="8.40" lengthAdjust="spacingAndGlyphs" >20</text>
<line x1="199.80" y1="458.56" x2="202.40" y2="458.56" stroke="#111" stroke-width="1.2" />
<text x="197.20" y="461.51" font-size="7.6" fill="#111" stroke="#111" stroke-width="0.3" text-anchor="end" textLength="8.40" lengthAdjust="spacingAndGlyphs" >40</text>
<line x1="199.80" y1="441.04" x2="202.40" y2="441.04" stroke="#111" stroke-width="1.2" />
<text x="197.20" y="443.99" font-size="7.6" fill="#111" stroke="#111" stroke-width="0.3" text-anchor="end" textLength="8.40" lengthAdjust="spacingAndGlyphs" >60</text>
<line x1="199.80" y1="423.52" x2="202.40" y2="423.52" stroke="#111" stroke-width="1.2" />
<text x="197.20" y="426.47" font-size="7.6" fill="#111" stroke="#111" stroke-width="0.3" text-anchor="end" textLength="8.40" lengthAdjust="spacingAndGlyphs" >80</text>
<line x1="199.80" y1="406.00" x2="202.40" y2="406.00" stroke="#111" stroke-width="1.2" />
<text x="197.20" y="408.95" font-size="7.6" fill="#111" stroke="#111" stroke-width="0.3" text-anchor="end" textLength="12.90" lengthAdjust="spacingAndGlyphs" >100</text>
<line x1="202.60" y1="493.60" x2="202.60" y2="496.60" stroke="#111" stroke-width="1.1" />
<text x="202.60" y="505.20" font-size="7.6" fill="#111" stroke="#111" stroke-width="0.3" text-anchor="middle" >0</text>
<line x1="231.32" y1="493.60" x2="231.32" y2="496.60" stroke="#111" stroke-width="1.1" />
<text x="231.32" y="505.20" font-size="7.6" fill="#111" stroke="#111" stroke-width="0.3" text-anchor="middle" >2</text>
<line x1="260.04" y1="493.60" x2="260.04" y2="496.60" stroke="#111" stroke-width="1.1" />
<text x="260.04" y="505.20" font-size="7.6" fill="#111" stroke="#111" stroke-width="0.3" text-anchor="middle" >4</text>
<line x1="288.76" y1="493.60" x2="288.76" y2="496.60" stroke="#111" stroke-width="1.1" />
<text x="288.76" y="505.20" font-size="7.6" fill="#111" stroke="#111" stroke-width="0.3" text-anchor="middle" >6</text>
<line x1="317.48" y1="493.60" x2="317.48" y2="496.60" stroke="#111" stroke-width="1.1" />
<text x="317.48" y="505.20" font-size="7.6" fill="#111" stroke="#111" stroke-width="0.3" text-anchor="middle" >8</text>
<line x1="346.20" y1="493.60" x2="346.20" y2="496.60" stroke="#111" stroke-width="1.1" />
<text x="346.20" y="505.20" font-size="7.6" fill="#111" stroke="#111" stroke-width="0.3" text-anchor="middle" textLength="8.60" lengthAdjust="spacingAndGlyphs" >10</text>
<text x="253.00" y="384.10" font-size="10.56" fill="#222" stroke="#222" stroke-width="0.1" textLength="41.60" lengthAdjust="spacingAndGlyphs" >GM12878</text>
<polyline points="202.60,493.07 231.32,492.37 260.04,489.57 303.12,474.15 331.84,427.02" fill="none" stroke="#2a1fae" stroke-width="2.2" stroke-linejoin="round" />
<polyline points="202.60,493.16 231.32,492.55 260.04,490.27 303.12,475.90 331.84,432.28" fill="none" stroke="#2a56c6" stroke-width="2.2" stroke-linejoin="round" />
<polyline points="202.60,493.16 231.32,492.72 260.04,491.15 303.12,477.13 331.84,434.91" fill="none" stroke="#44ee22" stroke-width="2.2" stroke-linejoin="round" />
<polyline points="202.60,493.16 231.32,492.72 260.04,490.80 303.12,478.88 331.84,437.54" fill="none" stroke="#c8102a" stroke-width="2.2" stroke-linejoin="round" />
<path d="M200.95,491.87 L204.25,491.87 L202.60,494.72 Z" fill="#2a1fae"/>
<path d="M229.67,491.17 L232.97,491.17 L231.32,494.02 Z" fill="#2a1fae"/>
<path d="M258.39,488.37 L261.69,488.37 L260.04,491.22 Z" fill="#2a1fae"/>
<path d="M301.47,472.95 L304.77,472.95 L303.12,475.80 Z" fill="#2a1fae"/>
<path d="M330.19,425.82 L333.49,425.82 L331.84,428.67 Z" fill="#2a1fae"/>
<line x1="331.84" y1="419.14" x2="331.84" y2="444.54" stroke="#2a56c6" stroke-width="1.2" />
<line x1="329.04" y1="419.14" x2="334.64" y2="419.14" stroke="#2a56c6" stroke-width="1.2" />
<line x1="329.04" y1="444.54" x2="334.64" y2="444.54" stroke="#2a56c6" stroke-width="1.2" />
<path d="M200.95,494.36 L204.25,494.36 L202.60,491.51 Z" fill="#2a56c6"/>
<path d="M229.67,493.75 L232.97,493.75 L231.32,490.90 Z" fill="#2a56c6"/>
<path d="M258.39,491.47 L261.69,491.47 L260.04,488.62 Z" fill="#2a56c6"/>
<path d="M301.47,477.10 L304.77,477.10 L303.12,474.25 Z" fill="#2a56c6"/>
<path d="M330.19,433.48 L333.49,433.48 L331.84,430.63 Z" fill="#2a56c6"/>
<line x1="331.84" y1="420.89" x2="331.84" y2="449.80" stroke="#44ee22" stroke-width="1.2" />
<line x1="329.04" y1="420.89" x2="334.64" y2="420.89" stroke="#44ee22" stroke-width="1.2" />
<line x1="329.04" y1="449.80" x2="334.64" y2="449.80" stroke="#44ee22" stroke-width="1.2" />
<rect x="201.10" y="491.66" width="3.00" height="3.00" fill="#44ee22"/>
<rect x="229.82" y="491.22" width="3.00" height="3.00" fill="#44ee22"/>
<rect x="258.54" y="489.65" width="3.00" height="3.00" fill="#44ee22"/>
<rect x="301.62" y="475.63" width="3.00" height="3.00" fill="#44ee22"/>
<rect x="330.34" y="433.41" width="3.00" height="3.00" fill="#44ee22"/>
<line x1="331.84" y1="424.40" x2="331.84" y2="450.68" stroke="#c8102a" stroke-width="1.2" />
<line x1="329.04" y1="424.40" x2="334.64" y2="424.40" stroke="#c8102a" stroke-width="1.2" />
<line x1="329.04" y1="450.68" x2="334.64" y2="450.68" stroke="#c8102a" stroke-width="1.2" />
<circle cx="202.60" cy="493.16" r="1.50" fill="#c8102a"/>
<circle cx="231.32" cy="492.72" r="1.50" fill="#c8102a"/>
<circle cx="260.04" cy="490.80" r="1.50" fill="#c8102a"/>
<circle cx="303.12" cy="478.88" r="1.50" fill="#c8102a"/>
<circle cx="331.84" cy="437.54" r="1.50" fill="#c8102a"/>
<text x="213.60" y="404.20" font-size="8.36" fill="#222" stroke="#222" stroke-width="0.1" textLength="23.10" lengthAdjust="spacingAndGlyphs" >cDNA</text>
<line x1="212.40" y1="406.60" x2="238.90" y2="406.60" stroke="#222" stroke-width="1.0" />
<text x="257.40" y="404.20" font-size="8.36" fill="#222" stroke="#222" stroke-width="0.1" textLength="26.60" lengthAdjust="spacingAndGlyphs" >sgRNA</text>
<line x1="255.50" y1="406.60" x2="285.10" y2="406.60" stroke="#222" stroke-width="1.0" />
<text x="211.70" y="418.50" font-size="8.14" fill="#d42a3a" stroke="#d42a3a" stroke-width="0.1" textLength="15.70" lengthAdjust="spacingAndGlyphs" >GFP</text>
<text x="255.10" y="418.50" font-size="8.14" fill="#d42a3a" stroke="#d42a3a" stroke-width="0.1" textLength="26.50" lengthAdjust="spacingAndGlyphs" >Control</text>
<text x="211.70" y="436.40" font-size="8.14" fill="#2a56c6" stroke="#2a56c6" stroke-width="0.1" textLength="28.40" lengthAdjust="spacingAndGlyphs" >STEAP3</text>
<text x="255.10" y="436.40" font-size="8.14" fill="#2a56c6" stroke="#2a56c6" stroke-width="0.1" textLength="26.50" lengthAdjust="spacingAndGlyphs" >Control</text>
<text x="211.70" y="453.90" font-size="8.14" fill="#50e830" stroke="#50e830" stroke-width="0.1" textLength="15.70" lengthAdjust="spacingAndGlyphs" >GFP</text>
<text x="255.10" y="453.90" font-size="8.14" fill="#50e830" stroke="#50e830" stroke-width="0.1" textLength="37.60" lengthAdjust="spacingAndGlyphs" >CYB561A3</text>
<text x="211.70" y="471.20" font-size="8.14" fill="#3a2ab0" stroke="#3a2ab0" stroke-width="0.1" textLength="28.40" lengthAdjust="spacingAndGlyphs" >STEAP3</text>
<text x="255.10" y="471.20" font-size="8.14" fill="#3a2ab0" stroke="#3a2ab0" stroke-width="0.1" textLength="37.60" lengthAdjust="spacingAndGlyphs" >CYB561A3</text>
<line x1="370.50" y1="404.90" x2="370.50" y2="494.20" stroke="#111" stroke-width="1.3" />
<line x1="369.90" y1="493.60" x2="509.10" y2="493.60" stroke="#111" stroke-width="1.3" />
<line x1="367.90" y1="493.60" x2="370.50" y2="493.60" stroke="#111" stroke-width="1.2" />
<text x="365.00" y="496.55" font-size="7.6" fill="#111" stroke="#111" stroke-width="0.3" text-anchor="end" >0</text>
<line x1="367.90" y1="471.62" x2="370.50" y2="471.62" stroke="#111" stroke-width="1.2" />
<text x="365.00" y="474.57" font-size="7.6" fill="#111" stroke="#111" stroke-width="0.3" text-anchor="end" textLength="8.40" lengthAdjust="spacingAndGlyphs" >50</text>
<line x1="367.90" y1="449.65" x2="370.50" y2="449.65" stroke="#111" stroke-width="1.2" />
<text x="365.00" y="452.60" font-size="7.6" fill="#111" stroke="#111" stroke-width="0.3" text-anchor="end" textLength="12.90" lengthAdjust="spacingAndGlyphs" >100</text>
<line x1="367.90" y1="427.68" x2="370.50" y2="427.68" stroke="#111" stroke-width="1.2" />
<text x="365.00" y="430.62" font-size="7.6" fill="#111" stroke="#111" stroke-width="0.3" text-anchor="end" textLength="12.90" lengthAdjust="spacingAndGlyphs" >150</text>
<line x1="367.90" y1="405.70" x2="370.50" y2="405.70" stroke="#111" stroke-width="1.2" />
<text x="365.00" y="408.65" font-size="7.6" fill="#111" stroke="#111" stroke-width="0.3" text-anchor="end" textLength="12.90" lengthAdjust="spacingAndGlyphs" >200</text>
<line x1="370.50" y1="493.60" x2="370.50" y2="496.60" stroke="#111" stroke-width="1.1" />
<text x="370.50" y="505.20" font-size="7.6" fill="#111" stroke="#111" stroke-width="0.3" text-anchor="middle" >0</text>
<line x1="398.12" y1="493.60" x2="398.12" y2="496.60" stroke="#111" stroke-width="1.1" />
<text x="398.12" y="505.20" font-size="7.6" fill="#111" stroke="#111" stroke-width="0.3" text-anchor="middle" >2</text>
<line x1="425.74" y1="493.60" x2="425.74" y2="496.60" stroke="#111" stroke-width="1.1" />
<text x="425.74" y="505.20" font-size="7.6" fill="#111" stroke="#111" stroke-width="0.3" text-anchor="middle" >4</text>
<line x1="453.36" y1="493.60" x2="453.36" y2="496.60" stroke="#111" stroke-width="1.1" />
<text x="453.36" y="505.20" font-size="7.6" fill="#111" stroke="#111" stroke-width="0.3" text-anchor="middle" >6</text>
<line x1="480.98" y1="493.60" x2="480.98" y2="496.60" stroke="#111" stroke-width="1.1" />
<text x="480.98" y="505.20" font-size="7.6" fill="#111" stroke="#111" stroke-width="0.3" text-anchor="middle" >8</text>
<line x1="508.60" y1="493.60" x2="508.60" y2="496.60" stroke="#111" stroke-width="1.1" />
<text x="508.60" y="505.20" font-size="7.6" fill="#111" stroke="#111" stroke-width="0.3" text-anchor="middle" textLength="8.60" lengthAdjust="spacingAndGlyphs" >10</text>
<text x="411.60" y="384.10" font-size="10.56" fill="#222" stroke="#222" stroke-width="0.1" textLength="31.20" lengthAdjust="spacingAndGlyphs" >P3HR-1</text>
<polyline points="370.50,493.47 398.12,493.47 425.74,492.94 467.17,486.79 494.79,477.91" fill="none" stroke="#44ee22" stroke-width="2.2" stroke-linejoin="round" />
<polyline points="370.50,493.38 398.12,493.29 425.74,492.28 467.17,483.93 494.79,436.90" fill="none" stroke="#2a56c6" stroke-width="2.2" stroke-linejoin="round" />
<polyline points="370.50,493.38 398.12,493.25 425.74,492.19 467.17,483.49 494.79,435.59" fill="none" stroke="#2a1fae" stroke-width="2.2" stroke-linejoin="round" />
<polyline points="370.50,493.38 398.12,493.25 425.74,492.06 467.17,482.61 494.79,432.51" fill="none" stroke="#c8102a" stroke-width="2.2" stroke-linejoin="round" />
<line x1="494.79" y1="476.02" x2="494.79" y2="479.10" stroke="#44ee22" stroke-width="1.2" />
<line x1="491.99" y1="476.02" x2="497.59" y2="476.02" stroke="#44ee22" stroke-width="1.2" />
<line x1="491.99" y1="479.10" x2="497.59" y2="479.10" stroke="#44ee22" stroke-width="1.2" />
<rect x="369.00" y="491.97" width="3.00" height="3.00" fill="#44ee22"/>
<rect x="396.62" y="491.97" width="3.00" height="3.00" fill="#44ee22"/>
<rect x="424.24" y="491.44" width="3.00" height="3.00" fill="#44ee22"/>
<rect x="465.67" y="485.29" width="3.00" height="3.00" fill="#44ee22"/>
<rect x="493.29" y="476.41" width="3.00" height="3.00" fill="#44ee22"/>
<line x1="494.79" y1="425.48" x2="494.79" y2="439.54" stroke="#2a56c6" stroke-width="1.2" />
<line x1="491.99" y1="425.48" x2="497.59" y2="425.48" stroke="#2a56c6" stroke-width="1.2" />
<line x1="491.99" y1="439.54" x2="497.59" y2="439.54" stroke="#2a56c6" stroke-width="1.2" />
<path d="M368.85,494.58 L372.15,494.58 L370.50,491.73 Z" fill="#2a56c6"/>
<path d="M396.47,494.49 L399.77,494.49 L398.12,491.64 Z" fill="#2a56c6"/>
<path d="M424.09,493.48 L427.39,493.48 L425.74,490.63 Z" fill="#2a56c6"/>
<path d="M465.52,485.13 L468.82,485.13 L467.17,482.28 Z" fill="#2a56c6"/>
<path d="M493.14,438.10 L496.44,438.10 L494.79,435.25 Z" fill="#2a56c6"/>
<path d="M368.85,492.18 L372.15,492.18 L370.50,495.03 Z" fill="#2a1fae"/>
<path d="M396.47,492.05 L399.77,492.05 L398.12,494.90 Z" fill="#2a1fae"/>
<path d="M424.09,490.99 L427.39,490.99 L425.74,493.84 Z" fill="#2a1fae"/>
<path d="M465.52,482.29 L468.82,482.29 L467.17,485.14 Z" fill="#2a1fae"/>
<path d="M493.14,434.39 L496.44,434.39 L494.79,437.24 Z" fill="#2a1fae"/>
<line x1="494.79" y1="421.96" x2="494.79" y2="443.06" stroke="#c8102a" stroke-width="1.2" />
<line x1="491.99" y1="421.96" x2="497.59" y2="421.96" stroke="#c8102a" stroke-width="1.2" />
<line x1="491.99" y1="443.06" x2="497.59" y2="443.06" stroke="#c8102a" stroke-width="1.2" />
<circle cx="370.50" cy="493.38" r="1.50" fill="#c8102a"/>
<circle cx="398.12" cy="493.25" r="1.50" fill="#c8102a"/>
<circle cx="425.74" cy="492.06" r="1.50" fill="#c8102a"/>
<circle cx="467.17" cy="482.61" r="1.50" fill="#c8102a"/>
<circle cx="494.79" cy="432.51" r="1.50" fill="#c8102a"/>
<text x="381.00" y="404.20" font-size="8.36" fill="#222" stroke="#222" stroke-width="0.1" textLength="23.10" lengthAdjust="spacingAndGlyphs" >cDNA</text>
<line x1="379.80" y1="406.60" x2="406.30" y2="406.60" stroke="#222" stroke-width="1.0" />
<text x="424.50" y="404.20" font-size="8.36" fill="#222" stroke="#222" stroke-width="0.1" textLength="26.60" lengthAdjust="spacingAndGlyphs" >sgRNA</text>
<line x1="422.60" y1="406.60" x2="452.20" y2="406.60" stroke="#222" stroke-width="1.0" />
<text x="379.10" y="418.50" font-size="8.14" fill="#d42a3a" stroke="#d42a3a" stroke-width="0.1" textLength="15.70" lengthAdjust="spacingAndGlyphs" >GFP</text>
<text x="422.20" y="418.50" font-size="8.14" fill="#d42a3a" stroke="#d42a3a" stroke-width="0.1" textLength="26.50" lengthAdjust="spacingAndGlyphs" >Control</text>
<text x="379.10" y="436.40" font-size="8.14" fill="#2a56c6" stroke="#2a56c6" stroke-width="0.1" textLength="28.40" lengthAdjust="spacingAndGlyphs" >STEAP3</text>
<text x="422.20" y="436.40" font-size="8.14" fill="#2a56c6" stroke="#2a56c6" stroke-width="0.1" textLength="26.50" lengthAdjust="spacingAndGlyphs" >Control</text>
<text x="379.10" y="453.90" font-size="8.14" fill="#50e830" stroke="#50e830" stroke-width="0.1" textLength="15.70" lengthAdjust="spacingAndGlyphs" >GFP</text>
<text x="422.20" y="453.90" font-size="8.14" fill="#50e830" stroke="#50e830" stroke-width="0.1" textLength="37.60" lengthAdjust="spacingAndGlyphs" >CYB561A3</text>
<text x="379.10" y="471.20" font-size="8.14" fill="#3a2ab0" stroke="#3a2ab0" stroke-width="0.1" textLength="28.40" lengthAdjust="spacingAndGlyphs" >STEAP3</text>
<text x="422.20" y="471.20" font-size="8.14" fill="#3a2ab0" stroke="#3a2ab0" stroke-width="0.1" textLength="37.60" lengthAdjust="spacingAndGlyphs" >CYB561A3</text>
<text x="182.80" y="486.20" font-size="10.12" fill="#333" stroke="#333" stroke-width="0.1" textLength="73.90" lengthAdjust="spacingAndGlyphs" transform="rotate(-90 182.80 486.20)" >Flod change live cell #</text>
<text x="267.60" y="514.60" font-size="9.46" fill="#222" stroke="#222" stroke-width="0.1" textLength="15.80" lengthAdjust="spacingAndGlyphs" >Days</text>
<text x="435.40" y="514.40" font-size="9.46" fill="#222" stroke="#222" stroke-width="0.1" textLength="16.00" lengthAdjust="spacingAndGlyphs" >Days</text>
<text x="475.00" y="479.80" font-size="9.24" fill="#3a2ab0" stroke="#3a2ab0" stroke-width="0.1" textLength="6.80" lengthAdjust="spacingAndGlyphs" >ns</text>
<text x="500.00" y="437.40" font-size="9.24" fill="#3a2ab0" stroke="#3a2ab0" stroke-width="0.1" textLength="7.70" lengthAdjust="spacingAndGlyphs" >ns</text>
<text x="500.00" y="482.90" font-size="8.0" fill="#d42a3a" stroke="#d42a3a" stroke-width="0.1" font-weight="bold" >**</text>
<text x="471.50" y="494.40" font-size="8.0" fill="#d42a3a" stroke="#d42a3a" stroke-width="0.1" font-weight="bold" >***</text>
<text x="421.60" y="486.40" font-size="8.0" fill="#3a2ab0" stroke="#3a2ab0" stroke-width="0.1" font-weight="bold" >*</text>
<text x="421.60" y="491.20" font-size="8.0" fill="#d42a3a" stroke="#d42a3a" stroke-width="0.1" font-weight="bold" >*</text>
<line x1="326.30" y1="541.00" x2="326.30" y2="668.80" stroke="#111" stroke-width="1.3" />
<line x1="325.70" y1="668.20" x2="445.70" y2="668.20" stroke="#111" stroke-width="1.3" />
<line x1="323.70" y1="541.75" x2="326.30" y2="541.75" stroke="#111" stroke-width="1.2" />
<text x="320.40" y="544.70" font-size="7.6" fill="#111" stroke="#111" stroke-width="0.3" text-anchor="end" textLength="10.60" lengthAdjust="spacingAndGlyphs" >1.5</text>
<line x1="323.70" y1="583.90" x2="326.30" y2="583.90" stroke="#111" stroke-width="1.2" />
<text x="320.40" y="586.85" font-size="7.6" fill="#111" stroke="#111" stroke-width="0.3" text-anchor="end" textLength="10.60" lengthAdjust="spacingAndGlyphs" >1.0</text>
<line x1="323.70" y1="626.05" x2="326.30" y2="626.05" stroke="#111" stroke-width="1.2" />
<text x="320.40" y="629.00" font-size="7.6" fill="#111" stroke="#111" stroke-width="0.3" text-anchor="end" textLength="10.60" lengthAdjust="spacingAndGlyphs" >0.5</text>
<line x1="323.70" y1="668.20" x2="326.30" y2="668.20" stroke="#111" stroke-width="1.2" />
<text x="320.40" y="671.15" font-size="7.6" fill="#111" stroke="#111" stroke-width="0.3" text-anchor="end" >0</text>
<line x1="326.30" y1="668.20" x2="326.30" y2="671.20" stroke="#111" stroke-width="1.1" />
<text x="326.30" y="680.30" font-size="7.6" fill="#111" stroke="#111" stroke-width="0.3" text-anchor="middle" textLength="11.60" lengthAdjust="spacingAndGlyphs" >3.5</text>
<line x1="346.10" y1="668.20" x2="346.10" y2="671.20" stroke="#111" stroke-width="1.1" />
<text x="346.10" y="680.30" font-size="7.6" fill="#111" stroke="#111" stroke-width="0.3" text-anchor="middle" textLength="11.60" lengthAdjust="spacingAndGlyphs" >4.0</text>
<line x1="365.90" y1="668.20" x2="365.90" y2="671.20" stroke="#111" stroke-width="1.1" />
<text x="365.90" y="680.30" font-size="7.6" fill="#111" stroke="#111" stroke-width="0.3" text-anchor="middle" textLength="11.60" lengthAdjust="spacingAndGlyphs" >4.5</text>
<line x1="385.70" y1="668.20" x2="385.70" y2="671.20" stroke="#111" stroke-width="1.1" />
<text x="385.70" y="680.30" font-size="7.6" fill="#111" stroke="#111" stroke-width="0.3" text-anchor="middle" textLength="11.60" lengthAdjust="spacingAndGlyphs" >5.0</text>
<line x1="405.50" y1="668.20" x2="405.50" y2="671.20" stroke="#111" stroke-width="1.1" />
<text x="405.50" y="680.30" font-size="7.6" fill="#111" stroke="#111" stroke-width="0.3" text-anchor="middle" textLength="11.60" lengthAdjust="spacingAndGlyphs" >5.5</text>
<line x1="425.30" y1="668.20" x2="425.30" y2="671.20" stroke="#111" stroke-width="1.1" />
<text x="425.30" y="680.30" font-size="7.6" fill="#111" stroke="#111" stroke-width="0.3" text-anchor="middle" textLength="11.60" lengthAdjust="spacingAndGlyphs" >6.0</text>
<line x1="445.10" y1="668.20" x2="445.10" y2="671.20" stroke="#111" stroke-width="1.1" />
<text x="445.10" y="680.30" font-size="7.6" fill="#111" stroke="#111" stroke-width="0.3" text-anchor="middle" textLength="11.60" lengthAdjust="spacingAndGlyphs" >6.5</text>
<text x="337.50" y="535.60" font-size="9.68" fill="#222" stroke="#222" stroke-width="0.1" textLength="95.30" lengthAdjust="spacingAndGlyphs" >DepMap Burkitt cell lines</text>
<circle cx="337.5" cy="555.0" r="1.3" fill="#1f45c0"/>
<circle cx="337.5" cy="567.3" r="1.3" fill="#d01a2a"/>
<text x="341.20" y="557.60" font-size="8.36" fill="#222" stroke="#222" stroke-width="0.1" textLength="40.00" lengthAdjust="spacingAndGlyphs" >EBV- Burkitt</text>
<text x="341.20" y="569.90" font-size="8.36" fill="#222" stroke="#222" stroke-width="0.1" textLength="42.10" lengthAdjust="spacingAndGlyphs" >EBV+ Burkitt</text>
<circle cx="407.3" cy="548.9" r="1.3" fill="#d01a2a"/>
<text x="409.60" y="551.50" font-size="8.36" fill="#222" stroke="#222" stroke-width="0.1" textLength="30.80" lengthAdjust="spacingAndGlyphs" >Namalwa</text>
<circle cx="400.2" cy="604.2" r="1.3" fill="#1f45c0"/>
<text x="404.20" y="606.80" font-size="8.36" fill="#2a56c6" stroke="#2a56c6" stroke-width="0.1" textLength="19.40" lengthAdjust="spacingAndGlyphs" >ST486</text>
<circle cx="350.4" cy="635.5" r="1.3" fill="#1f45c0"/>
<text x="353.00" y="638.10" font-size="8.36" fill="#2a56c6" stroke="#2a56c6" stroke-width="0.1" textLength="17.70" lengthAdjust="spacingAndGlyphs" >CA46</text>
<circle cx="400.7" cy="641.9" r="1.3" fill="#1f45c0"/>
<text x="403.50" y="644.50" font-size="8.36" fill="#2a56c6" stroke="#2a56c6" stroke-width="0.1" textLength="19.10" lengthAdjust="spacingAndGlyphs" >BLUE1</text>
<circle cx="401.6" cy="650.1" r="1.3" fill="#1f45c0"/>
<text x="404.30" y="652.40" font-size="8.36" fill="#2a56c6" stroke="#2a56c6" stroke-width="0.1" textLength="17.50" lengthAdjust="spacingAndGlyphs" >GA10</text>
<circle cx="398.5" cy="657.2" r="1.3" fill="#1f45c0"/>
<text x="384.10" y="655.50" font-size="8.36" fill="#2a56c6" stroke="#2a56c6" stroke-width="0.1" textLength="14.80" lengthAdjust="spacingAndGlyphs" >BL41</text>
<circle cx="377.6" cy="655.1" r="1.3" fill="#d01a2a"/>
<text x="352.70" y="657.70" font-size="8.36" fill="#d42a3a" stroke="#d42a3a" stroke-width="0.1" textLength="23.10" lengthAdjust="spacingAndGlyphs" >P3HR-1</text>
<circle cx="406.3" cy="657.2" r="1.3" fill="#d01a2a"/>
<text x="409.00" y="659.10" font-size="8.36" fill="#d42a3a" stroke="#d42a3a" stroke-width="0.1" textLength="16.20" lengthAdjust="spacingAndGlyphs" >Daudi</text>
<circle cx="392.2" cy="660.2" r="1.3" fill="#1f45c0"/>
<text x="374.70" y="662.60" font-size="8.36" fill="#2a56c6" stroke="#2a56c6" stroke-width="0.1" textLength="15.50" lengthAdjust="spacingAndGlyphs" >BL70</text>
<circle cx="398.7" cy="661.1" r="1.3" fill="#d01a2a"/>
<text x="389.20" y="667.40" font-size="8.36" fill="#d42a3a" stroke="#d42a3a" stroke-width="0.1" textLength="8.60" lengthAdjust="spacingAndGlyphs" >EB1</text>
<circle cx="403.0" cy="663.1" r="1.3" fill="#1f45c0"/>
<text x="405.30" y="667.60" font-size="8.36" fill="#2a56c6" stroke="#2a56c6" stroke-width="0.1" textLength="19.90" lengthAdjust="spacingAndGlyphs" >Ramos</text>
<circle cx="421.1" cy="663.1" r="1.3" fill="#d01a2a"/>
<text x="425.90" y="662.60" font-size="8.36" fill="#d42a3a" stroke="#d42a3a" stroke-width="0.1" textLength="11.40" lengthAdjust="spacingAndGlyphs" >Raji</text>
<text x="304.00" y="644.20" font-size="9.68" fill="#333" stroke="#333" stroke-width="0.1" textLength="79.90" lengthAdjust="spacingAndGlyphs" transform="rotate(-90 304.00 644.20)" >Log2 STEAP3 expression</text>
<text x="342.20" y="692.00" font-size="9.68" fill="#333" stroke="#333" stroke-width="0.1" textLength="90.20" lengthAdjust="spacingAndGlyphs" >Log2 CYB561A3 expression</text>
</svg></body></html>
